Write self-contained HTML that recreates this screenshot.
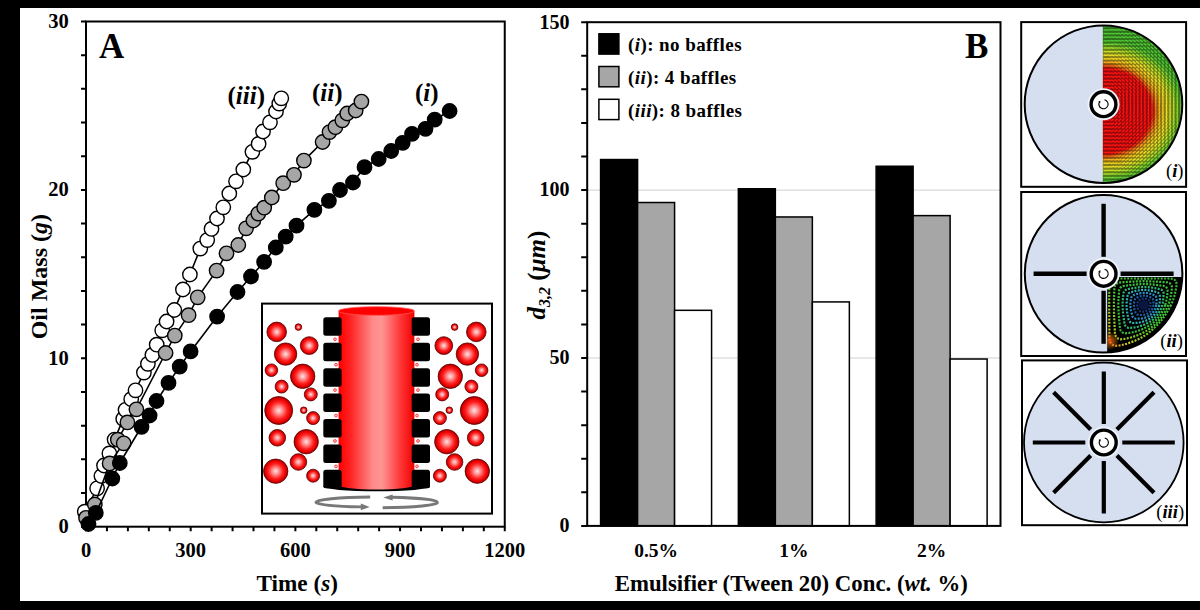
<!DOCTYPE html>
<html><head><meta charset="utf-8"><title>figure</title>
<style>html,body{margin:0;padding:0;background:#000;} body{width:1200px;height:610px;overflow:hidden;} svg{display:block;}</style>
</head><body>
<svg width="1200" height="610" viewBox="0 0 1200 610">
<defs>
<radialGradient id="bub" cx="0.5" cy="0.5" r="0.5" fx="0.5" fy="0.5">
<stop offset="0" stop-color="#ffe4e4"/><stop offset="0.3" stop-color="#ff8888"/><stop offset="0.62" stop-color="#ff1c1c"/><stop offset="0.86" stop-color="#e00000"/><stop offset="1" stop-color="#900000"/></radialGradient>
<linearGradient id="cyl" x1="0" x2="1" y1="0" y2="0">
<stop offset="0" stop-color="#ff0000"/><stop offset="0.15" stop-color="#ff2020"/><stop offset="0.45" stop-color="#ff8a8a"/><stop offset="0.57" stop-color="#ff9494"/><stop offset="0.82" stop-color="#ff3535"/><stop offset="1" stop-color="#f00000"/></linearGradient>
<radialGradient id="f1" gradientUnits="userSpaceOnUse" cx="1103.5" cy="111" r="80" gradientTransform="translate(0,111) scale(1,0.88) translate(0,-111)">
<stop offset="0" stop-color="#ff1010"/><stop offset="0.605" stop-color="#ff1414"/><stop offset="0.635" stop-color="#f05010"/><stop offset="0.675" stop-color="#f09820"/><stop offset="0.73" stop-color="#f0c820"/><stop offset="0.80" stop-color="#e8e028"/><stop offset="0.88" stop-color="#b0dc28"/><stop offset="0.95" stop-color="#70d030"/><stop offset="1" stop-color="#50c030"/></radialGradient>
<radialGradient id="f2" gradientUnits="userSpaceOnUse" cx="1143" cy="305" r="60">
<stop offset="0" stop-color="#001030"/><stop offset="0.2" stop-color="#103070"/><stop offset="0.45" stop-color="#20a0b0"/><stop offset="0.65" stop-color="#30c040"/><stop offset="0.8" stop-color="#40b020"/><stop offset="0.9" stop-color="#c0d020"/><stop offset="1" stop-color="#e06010"/></radialGradient>
<pattern id="tex1" patternUnits="userSpaceOnUse" width="3.5" height="3.5"><rect x="0" y="2.3" width="3.5" height="1.2" fill="#000" fill-opacity="0.6"/><rect x="2.7" y="0" width="0.8" height="2.3" fill="#000" fill-opacity="0.45"/></pattern>
<pattern id="tex2" patternUnits="userSpaceOnUse" width="3.6" height="3.6"><rect x="0" y="0" width="3.6" height="3.6" fill="#000" fill-opacity="0.35"/><circle cx="1.8" cy="1.8" r="1.1" fill="#fff" fill-opacity="0.15"/></pattern>
<radialGradient id="org" cx="0.5" cy="0.5" r="0.5"><stop offset="0" stop-color="#f05010" stop-opacity="0.9"/><stop offset="1" stop-color="#f0a010" stop-opacity="0"/></radialGradient>
<linearGradient id="rg0" gradientUnits="userSpaceOnUse" x1="1180" y1="277" x2="1108" y2="352"><stop offset="0" stop-color="#30b830"/><stop offset="0.5" stop-color="#48c030"/><stop offset="0.8" stop-color="#c8d020"/><stop offset="1" stop-color="#e86020"/></linearGradient>
<linearGradient id="rg1" gradientUnits="userSpaceOnUse" x1="1180" y1="277" x2="1108" y2="352"><stop offset="0" stop-color="#38c038"/><stop offset="0.5" stop-color="#40c030"/><stop offset="0.8" stop-color="#a0d020"/><stop offset="1" stop-color="#e0a020"/></linearGradient>
</defs>
<rect x="0" y="0" width="1200" height="610" fill="#000"/>
<rect x="20" y="8" width="1180" height="593" fill="#fff"/>
<rect x="86.0" y="21.5" width="418.75" height="505.20" fill="none" stroke="#000" stroke-width="2"/>
<path d="M81.0,526.70H86.0M81.0,493.02H86.0M81.0,459.34H86.0M81.0,425.66H86.0M81.0,391.98H86.0M81.0,358.30H86.0M81.0,324.62H86.0M81.0,290.94H86.0M81.0,257.26H86.0M81.0,223.58H86.0M81.0,189.90H86.0M81.0,156.22H86.0M81.0,122.54H86.0M81.0,88.86H86.0M81.0,55.18H86.0M81.0,21.50H86.0M86.00,526.7V531.2M106.94,526.7V531.2M127.88,526.7V531.2M148.81,526.7V531.2M169.75,526.7V531.2M190.69,526.7V531.2M211.62,526.7V531.2M232.56,526.7V531.2M253.50,526.7V531.2M274.44,526.7V531.2M295.38,526.7V531.2M316.31,526.7V531.2M337.25,526.7V531.2M358.19,526.7V531.2M379.12,526.7V531.2M400.06,526.7V531.2M421.00,526.7V531.2M441.94,526.7V531.2M462.88,526.7V531.2M483.81,526.7V531.2M504.75,526.7V531.2" stroke="#000" stroke-width="2" fill="none"/>
<text x="68.8" y="533.1" font-family="Liberation Serif" font-weight="bold" font-size="20.5" text-anchor="end">0</text>
<text x="68.8" y="364.7" font-family="Liberation Serif" font-weight="bold" font-size="20.5" text-anchor="end">10</text>
<text x="68.8" y="196.3" font-family="Liberation Serif" font-weight="bold" font-size="20.5" text-anchor="end">20</text>
<text x="68.8" y="27.9" font-family="Liberation Serif" font-weight="bold" font-size="20.5" text-anchor="end">30</text>
<text x="86.0" y="556.8" font-family="Liberation Serif" font-weight="bold" font-size="20.5" text-anchor="middle">0</text>
<text x="190.7" y="556.8" font-family="Liberation Serif" font-weight="bold" font-size="20.5" text-anchor="middle">300</text>
<text x="295.4" y="556.8" font-family="Liberation Serif" font-weight="bold" font-size="20.5" text-anchor="middle">600</text>
<text x="400.1" y="556.8" font-family="Liberation Serif" font-weight="bold" font-size="20.5" text-anchor="middle">900</text>
<text x="504.8" y="556.8" font-family="Liberation Serif" font-weight="bold" font-size="20.5" text-anchor="middle">1200</text>
<text x="297.2" y="591.4" font-family="Liberation Serif" font-weight="bold" font-size="23.2" text-anchor="middle">Time (<tspan font-style="italic">s</tspan>)</text>
<text transform="translate(47,276.7) rotate(-90)" x="0" y="0" font-family="Liberation Serif" font-weight="bold" font-size="24" text-anchor="middle">Oil Mass (<tspan font-style="italic">g</tspan>)</text>
<text x="99" y="57.8" font-family="Liberation Serif" font-weight="bold" font-size="35">A</text>
<text x="227.5" y="104" font-family="Liberation Serif" font-weight="bold" font-size="25">(<tspan font-style="italic">iii</tspan>)</text>
<text x="312" y="101" font-family="Liberation Serif" font-weight="bold" font-size="25">(<tspan font-style="italic">ii</tspan>)</text>
<text x="415" y="101" font-family="Liberation Serif" font-weight="bold" font-size="25">(<tspan font-style="italic">i</tspan>)</text>
<rect x="262" y="303.6" width="230" height="210" fill="#fff" stroke="#000" stroke-width="2"/>
<circle cx="276.7" cy="331.9" r="9.8" fill="url(#bub)" stroke="#600000" stroke-width="0.8"/>
<circle cx="476.3" cy="331.9" r="9.8" fill="url(#bub)" stroke="#600000" stroke-width="0.8"/>
<circle cx="298.4" cy="327.1" r="3.3" fill="url(#bub)" stroke="#600000" stroke-width="0.8"/>
<circle cx="454.6" cy="327.1" r="3.3" fill="url(#bub)" stroke="#600000" stroke-width="0.8"/>
<circle cx="285.6" cy="354.1" r="11.2" fill="url(#bub)" stroke="#600000" stroke-width="0.8"/>
<circle cx="467.4" cy="354.1" r="11.2" fill="url(#bub)" stroke="#600000" stroke-width="0.8"/>
<circle cx="309.2" cy="345.6" r="8.9" fill="url(#bub)" stroke="#600000" stroke-width="0.8"/>
<circle cx="443.8" cy="345.6" r="8.9" fill="url(#bub)" stroke="#600000" stroke-width="0.8"/>
<circle cx="271.4" cy="370.2" r="6.3" fill="url(#bub)" stroke="#600000" stroke-width="0.8"/>
<circle cx="481.6" cy="370.2" r="6.3" fill="url(#bub)" stroke="#600000" stroke-width="0.8"/>
<circle cx="302.7" cy="376.3" r="12.2" fill="url(#bub)" stroke="#600000" stroke-width="0.8"/>
<circle cx="450.3" cy="376.3" r="12.2" fill="url(#bub)" stroke="#600000" stroke-width="0.8"/>
<circle cx="281.6" cy="386.6" r="6.5" fill="url(#bub)" stroke="#600000" stroke-width="0.8"/>
<circle cx="471.4" cy="386.6" r="6.5" fill="url(#bub)" stroke="#600000" stroke-width="0.8"/>
<circle cx="310.8" cy="394.4" r="6.5" fill="url(#bub)" stroke="#600000" stroke-width="0.8"/>
<circle cx="442.2" cy="394.4" r="6.5" fill="url(#bub)" stroke="#600000" stroke-width="0.8"/>
<circle cx="278.7" cy="410.5" r="14" fill="url(#bub)" stroke="#600000" stroke-width="0.8"/>
<circle cx="474.3" cy="410.5" r="14" fill="url(#bub)" stroke="#600000" stroke-width="0.8"/>
<circle cx="303.7" cy="410.2" r="3.3" fill="url(#bub)" stroke="#600000" stroke-width="0.8"/>
<circle cx="449.3" cy="410.2" r="3.3" fill="url(#bub)" stroke="#600000" stroke-width="0.8"/>
<circle cx="313.1" cy="418.1" r="6.5" fill="url(#bub)" stroke="#600000" stroke-width="0.8"/>
<circle cx="439.9" cy="418.1" r="6.5" fill="url(#bub)" stroke="#600000" stroke-width="0.8"/>
<circle cx="277.3" cy="437.8" r="8.3" fill="url(#bub)" stroke="#600000" stroke-width="0.8"/>
<circle cx="475.7" cy="437.8" r="8.3" fill="url(#bub)" stroke="#600000" stroke-width="0.8"/>
<circle cx="306.2" cy="441.7" r="12.2" fill="url(#bub)" stroke="#600000" stroke-width="0.8"/>
<circle cx="446.8" cy="441.7" r="12.2" fill="url(#bub)" stroke="#600000" stroke-width="0.8"/>
<circle cx="275.7" cy="471.2" r="12.2" fill="url(#bub)" stroke="#600000" stroke-width="0.8"/>
<circle cx="477.3" cy="471.2" r="12.2" fill="url(#bub)" stroke="#600000" stroke-width="0.8"/>
<circle cx="298.4" cy="462" r="8.3" fill="url(#bub)" stroke="#600000" stroke-width="0.8"/>
<circle cx="454.6" cy="462" r="8.3" fill="url(#bub)" stroke="#600000" stroke-width="0.8"/>
<circle cx="313.1" cy="475.7" r="6.5" fill="url(#bub)" stroke="#600000" stroke-width="0.8"/>
<circle cx="439.9" cy="475.7" r="6.5" fill="url(#bub)" stroke="#600000" stroke-width="0.8"/>
<ellipse cx="376.7" cy="486.5" rx="53.4" ry="4.8" fill="#000"/>
<path d="M338.6,311 V485 A37.9,4.5 0 0 0 414.4,485 V311 Z" fill="url(#cyl)"/>
<ellipse cx="376.5" cy="311" rx="37.9" ry="4.3" fill="#f00" stroke="#ff5050" stroke-width="0.8"/>
<rect x="323.3" y="317.30" width="18.3" height="18.5" rx="2.5" fill="#000"/>
<rect x="411.7" y="317.30" width="18.3" height="18.5" rx="2.5" fill="#000"/>
<rect x="323.3" y="342.72" width="18.3" height="18.5" rx="2.5" fill="#000"/>
<rect x="411.7" y="342.72" width="18.3" height="18.5" rx="2.5" fill="#000"/>
<rect x="323.3" y="368.14" width="18.3" height="18.5" rx="2.5" fill="#000"/>
<rect x="411.7" y="368.14" width="18.3" height="18.5" rx="2.5" fill="#000"/>
<rect x="323.3" y="393.56" width="18.3" height="18.5" rx="2.5" fill="#000"/>
<rect x="411.7" y="393.56" width="18.3" height="18.5" rx="2.5" fill="#000"/>
<rect x="323.3" y="418.98" width="18.3" height="18.5" rx="2.5" fill="#000"/>
<rect x="411.7" y="418.98" width="18.3" height="18.5" rx="2.5" fill="#000"/>
<rect x="323.3" y="444.40" width="18.3" height="18.5" rx="2.5" fill="#000"/>
<rect x="411.7" y="444.40" width="18.3" height="18.5" rx="2.5" fill="#000"/>
<rect x="323.3" y="469.82" width="18.3" height="18.5" rx="2.5" fill="#000"/>
<rect x="411.7" y="469.82" width="18.3" height="18.5" rx="2.5" fill="#000"/>
<circle cx="335.0" cy="339.3" r="1.4" fill="#ffc8c8" stroke="#ff2020" stroke-width="0.8"/>
<circle cx="418.0" cy="339.3" r="1.4" fill="#ffc8c8" stroke="#ff2020" stroke-width="0.8"/>
<circle cx="336.0" cy="364.7" r="1.4" fill="#ffc8c8" stroke="#ff2020" stroke-width="0.8"/>
<circle cx="417.0" cy="364.7" r="1.4" fill="#ffc8c8" stroke="#ff2020" stroke-width="0.8"/>
<circle cx="335.0" cy="390.1" r="1.4" fill="#ffc8c8" stroke="#ff2020" stroke-width="0.8"/>
<circle cx="418.0" cy="390.1" r="1.4" fill="#ffc8c8" stroke="#ff2020" stroke-width="0.8"/>
<circle cx="336.0" cy="415.6" r="1.4" fill="#ffc8c8" stroke="#ff2020" stroke-width="0.8"/>
<circle cx="417.0" cy="415.6" r="1.4" fill="#ffc8c8" stroke="#ff2020" stroke-width="0.8"/>
<circle cx="335.0" cy="441.0" r="1.4" fill="#ffc8c8" stroke="#ff2020" stroke-width="0.8"/>
<circle cx="418.0" cy="441.0" r="1.4" fill="#ffc8c8" stroke="#ff2020" stroke-width="0.8"/>
<circle cx="336.0" cy="466.4" r="1.4" fill="#ffc8c8" stroke="#ff2020" stroke-width="0.8"/>
<circle cx="417.0" cy="466.4" r="1.4" fill="#ffc8c8" stroke="#ff2020" stroke-width="0.8"/>
<path d="M370.2,497 A60.7,5.3 0 0 0 316,502.3 A60.7,5.3 0 0 0 361,506.9" fill="none" stroke="#787878" stroke-width="2.9"/>
<path d="M382.7,507.7 A60.7,5.3 0 0 0 437.4,502.3 A60.7,5.3 0 0 0 392,497.3" fill="none" stroke="#787878" stroke-width="2.9"/>
<path d="M369.7,506.9 L360.8,503.6 L360.8,510.2 Z" fill="#787878"/>
<path d="M383.2,497.5 L392.6,494.4 L392.6,500.6 Z" fill="#787878"/>
<path d="M86.0,526.7 L84.8,511.7 L97.1,488.3 L101.4,476.0 L104.0,465.5 L109.4,453.4 L114.6,439.6 L123.2,418.9 L125.5,409.8 L131.2,399.2 L135.5,390.3 L143.9,372.6 L147.9,363.8 L152.4,354.9 L156.7,344.7 L162.2,330.3 L166.6,321.5 L174.3,310.0 L182.9,289.5 L189.9,274.5 L200.3,248.6 L207.2,240.1 L211.5,228.9 L217.0,218.5 L223.3,207.3 L229.3,193.5 L236.0,181.3 L243.3,169.5 L252.4,151.8 L258.6,143.9 L263.0,131.5 L270.0,122.3 L276.0,111.5 L279.3,103.6 L281.3,98.3" fill="none" stroke="#000" stroke-width="1.6"/>
<circle cx="84.8" cy="511.7" r="7.2" fill="#fff" stroke="#000" stroke-width="1.4"/>
<circle cx="97.1" cy="488.3" r="7.2" fill="#fff" stroke="#000" stroke-width="1.4"/>
<circle cx="101.4" cy="476" r="7.2" fill="#fff" stroke="#000" stroke-width="1.4"/>
<circle cx="104" cy="465.5" r="7.2" fill="#fff" stroke="#000" stroke-width="1.4"/>
<circle cx="109.4" cy="453.4" r="7.2" fill="#fff" stroke="#000" stroke-width="1.4"/>
<circle cx="114.6" cy="439.6" r="7.2" fill="#fff" stroke="#000" stroke-width="1.4"/>
<circle cx="123.2" cy="418.9" r="7.2" fill="#fff" stroke="#000" stroke-width="1.4"/>
<circle cx="125.5" cy="409.8" r="7.2" fill="#fff" stroke="#000" stroke-width="1.4"/>
<circle cx="131.2" cy="399.2" r="7.2" fill="#fff" stroke="#000" stroke-width="1.4"/>
<circle cx="135.5" cy="390.3" r="7.2" fill="#fff" stroke="#000" stroke-width="1.4"/>
<circle cx="143.9" cy="372.6" r="7.2" fill="#fff" stroke="#000" stroke-width="1.4"/>
<circle cx="147.9" cy="363.8" r="7.2" fill="#fff" stroke="#000" stroke-width="1.4"/>
<circle cx="152.4" cy="354.9" r="7.2" fill="#fff" stroke="#000" stroke-width="1.4"/>
<circle cx="156.7" cy="344.7" r="7.2" fill="#fff" stroke="#000" stroke-width="1.4"/>
<circle cx="162.2" cy="330.3" r="7.2" fill="#fff" stroke="#000" stroke-width="1.4"/>
<circle cx="166.6" cy="321.5" r="7.2" fill="#fff" stroke="#000" stroke-width="1.4"/>
<circle cx="174.3" cy="310" r="7.2" fill="#fff" stroke="#000" stroke-width="1.4"/>
<circle cx="182.9" cy="289.5" r="7.2" fill="#fff" stroke="#000" stroke-width="1.4"/>
<circle cx="189.9" cy="274.5" r="7.2" fill="#fff" stroke="#000" stroke-width="1.4"/>
<circle cx="200.3" cy="248.6" r="7.2" fill="#fff" stroke="#000" stroke-width="1.4"/>
<circle cx="207.2" cy="240.1" r="7.2" fill="#fff" stroke="#000" stroke-width="1.4"/>
<circle cx="211.5" cy="228.9" r="7.2" fill="#fff" stroke="#000" stroke-width="1.4"/>
<circle cx="217" cy="218.5" r="7.2" fill="#fff" stroke="#000" stroke-width="1.4"/>
<circle cx="223.3" cy="207.3" r="7.2" fill="#fff" stroke="#000" stroke-width="1.4"/>
<circle cx="229.3" cy="193.5" r="7.2" fill="#fff" stroke="#000" stroke-width="1.4"/>
<circle cx="236" cy="181.3" r="7.2" fill="#fff" stroke="#000" stroke-width="1.4"/>
<circle cx="243.3" cy="169.5" r="7.2" fill="#fff" stroke="#000" stroke-width="1.4"/>
<circle cx="252.4" cy="151.8" r="7.2" fill="#fff" stroke="#000" stroke-width="1.4"/>
<circle cx="258.6" cy="143.9" r="7.2" fill="#fff" stroke="#000" stroke-width="1.4"/>
<circle cx="263" cy="131.5" r="7.2" fill="#fff" stroke="#000" stroke-width="1.4"/>
<circle cx="270" cy="122.3" r="7.2" fill="#fff" stroke="#000" stroke-width="1.4"/>
<circle cx="276" cy="111.5" r="7.2" fill="#fff" stroke="#000" stroke-width="1.4"/>
<circle cx="279.3" cy="103.6" r="7.2" fill="#fff" stroke="#000" stroke-width="1.4"/>
<circle cx="281.3" cy="98.3" r="7.2" fill="#fff" stroke="#000" stroke-width="1.4"/>
<path d="M86.0,526.7 L86.0,517.8 L94.8,504.5 L109.6,463.4 L123.7,443.3 L117.8,439.7 L127.4,422.4 L136.4,409.3 L165.6,353.0 L174.8,335.6 L188.6,315.2 L197.7,297.3 L216.6,270.6 L226.5,253.3 L238.3,245.0 L246.1,228.3 L253.4,220.5 L258.3,213.6 L264.2,207.7 L271.8,197.5 L283.2,183.2 L294.0,174.8 L303.9,160.6 L322.6,142.0 L329.5,132.1 L335.4,127.2 L342.3,120.3 L347.2,113.5 L355.7,110.5 L361.4,101.6" fill="none" stroke="#000" stroke-width="1.6"/>
<circle cx="86" cy="517.8" r="7.2" fill="#a6a6a6" stroke="#000" stroke-width="1.4"/>
<circle cx="94.8" cy="504.5" r="7.2" fill="#a6a6a6" stroke="#000" stroke-width="1.4"/>
<circle cx="109.6" cy="463.4" r="7.2" fill="#a6a6a6" stroke="#000" stroke-width="1.4"/>
<circle cx="117.8" cy="439.7" r="7.2" fill="#a6a6a6" stroke="#000" stroke-width="1.4"/>
<circle cx="123.7" cy="443.3" r="7.2" fill="#a6a6a6" stroke="#000" stroke-width="1.4"/>
<circle cx="127.4" cy="422.4" r="7.2" fill="#a6a6a6" stroke="#000" stroke-width="1.4"/>
<circle cx="136.4" cy="409.3" r="7.2" fill="#a6a6a6" stroke="#000" stroke-width="1.4"/>
<circle cx="165.6" cy="353" r="7.2" fill="#a6a6a6" stroke="#000" stroke-width="1.4"/>
<circle cx="174.8" cy="335.6" r="7.2" fill="#a6a6a6" stroke="#000" stroke-width="1.4"/>
<circle cx="188.6" cy="315.2" r="7.2" fill="#a6a6a6" stroke="#000" stroke-width="1.4"/>
<circle cx="197.7" cy="297.3" r="7.2" fill="#a6a6a6" stroke="#000" stroke-width="1.4"/>
<circle cx="216.6" cy="270.6" r="7.2" fill="#a6a6a6" stroke="#000" stroke-width="1.4"/>
<circle cx="226.5" cy="253.3" r="7.2" fill="#a6a6a6" stroke="#000" stroke-width="1.4"/>
<circle cx="238.3" cy="245" r="7.2" fill="#a6a6a6" stroke="#000" stroke-width="1.4"/>
<circle cx="246.1" cy="228.3" r="7.2" fill="#a6a6a6" stroke="#000" stroke-width="1.4"/>
<circle cx="253.4" cy="220.5" r="7.2" fill="#a6a6a6" stroke="#000" stroke-width="1.4"/>
<circle cx="258.3" cy="213.6" r="7.2" fill="#a6a6a6" stroke="#000" stroke-width="1.4"/>
<circle cx="264.2" cy="207.7" r="7.2" fill="#a6a6a6" stroke="#000" stroke-width="1.4"/>
<circle cx="271.8" cy="197.5" r="7.2" fill="#a6a6a6" stroke="#000" stroke-width="1.4"/>
<circle cx="283.2" cy="183.2" r="7.2" fill="#a6a6a6" stroke="#000" stroke-width="1.4"/>
<circle cx="294" cy="174.8" r="7.2" fill="#a6a6a6" stroke="#000" stroke-width="1.4"/>
<circle cx="303.9" cy="160.6" r="7.2" fill="#a6a6a6" stroke="#000" stroke-width="1.4"/>
<circle cx="322.6" cy="142" r="7.2" fill="#a6a6a6" stroke="#000" stroke-width="1.4"/>
<circle cx="329.5" cy="132.1" r="7.2" fill="#a6a6a6" stroke="#000" stroke-width="1.4"/>
<circle cx="335.4" cy="127.2" r="7.2" fill="#a6a6a6" stroke="#000" stroke-width="1.4"/>
<circle cx="342.3" cy="120.3" r="7.2" fill="#a6a6a6" stroke="#000" stroke-width="1.4"/>
<circle cx="347.2" cy="113.5" r="7.2" fill="#a6a6a6" stroke="#000" stroke-width="1.4"/>
<circle cx="355.7" cy="110.5" r="7.2" fill="#a6a6a6" stroke="#000" stroke-width="1.4"/>
<circle cx="361.4" cy="101.6" r="7.2" fill="#a6a6a6" stroke="#000" stroke-width="1.4"/>
<path d="M86.0,526.7 L88.5,524.0 L95.8,512.9 L112.3,478.5 L119.8,463.0 L141.5,426.8 L149.6,415.5 L156.5,401.0 L168.5,382.9 L179.7,366.7 L190.6,351.4 L217.1,316.6 L237.5,292.0 L251.0,276.5 L264.1,261.9 L275.8,247.5 L285.7,236.7 L296.5,225.7 L314.4,209.8 L328.9,200.8 L340.0,190.0 L353.0,182.5 L364.5,167.2 L378.7,159.0 L391.2,151.0 L402.7,142.8 L412.0,133.8 L425.5,128.8 L434.7,119.7 L449.6,111.0" fill="none" stroke="#000" stroke-width="1.6"/>
<circle cx="88.5" cy="524" r="7.2" fill="#000" stroke="#000" stroke-width="1.4"/>
<circle cx="95.8" cy="512.9" r="7.2" fill="#000" stroke="#000" stroke-width="1.4"/>
<circle cx="112.3" cy="478.5" r="7.2" fill="#000" stroke="#000" stroke-width="1.4"/>
<circle cx="119.8" cy="463" r="7.2" fill="#000" stroke="#000" stroke-width="1.4"/>
<circle cx="141.5" cy="426.8" r="7.2" fill="#000" stroke="#000" stroke-width="1.4"/>
<circle cx="149.6" cy="415.5" r="7.2" fill="#000" stroke="#000" stroke-width="1.4"/>
<circle cx="156.5" cy="401" r="7.2" fill="#000" stroke="#000" stroke-width="1.4"/>
<circle cx="168.5" cy="382.9" r="7.2" fill="#000" stroke="#000" stroke-width="1.4"/>
<circle cx="179.7" cy="366.7" r="7.2" fill="#000" stroke="#000" stroke-width="1.4"/>
<circle cx="190.6" cy="351.4" r="7.2" fill="#000" stroke="#000" stroke-width="1.4"/>
<circle cx="217.1" cy="316.6" r="7.2" fill="#000" stroke="#000" stroke-width="1.4"/>
<circle cx="237.5" cy="292" r="7.2" fill="#000" stroke="#000" stroke-width="1.4"/>
<circle cx="251" cy="276.5" r="7.2" fill="#000" stroke="#000" stroke-width="1.4"/>
<circle cx="264.1" cy="261.9" r="7.2" fill="#000" stroke="#000" stroke-width="1.4"/>
<circle cx="275.8" cy="247.5" r="7.2" fill="#000" stroke="#000" stroke-width="1.4"/>
<circle cx="285.7" cy="236.7" r="7.2" fill="#000" stroke="#000" stroke-width="1.4"/>
<circle cx="296.5" cy="225.7" r="7.2" fill="#000" stroke="#000" stroke-width="1.4"/>
<circle cx="314.4" cy="209.8" r="7.2" fill="#000" stroke="#000" stroke-width="1.4"/>
<circle cx="328.9" cy="200.8" r="7.2" fill="#000" stroke="#000" stroke-width="1.4"/>
<circle cx="340" cy="190" r="7.2" fill="#000" stroke="#000" stroke-width="1.4"/>
<circle cx="353" cy="182.5" r="7.2" fill="#000" stroke="#000" stroke-width="1.4"/>
<circle cx="364.5" cy="167.2" r="7.2" fill="#000" stroke="#000" stroke-width="1.4"/>
<circle cx="378.7" cy="159" r="7.2" fill="#000" stroke="#000" stroke-width="1.4"/>
<circle cx="391.2" cy="151" r="7.2" fill="#000" stroke="#000" stroke-width="1.4"/>
<circle cx="402.7" cy="142.8" r="7.2" fill="#000" stroke="#000" stroke-width="1.4"/>
<circle cx="412" cy="133.8" r="7.2" fill="#000" stroke="#000" stroke-width="1.4"/>
<circle cx="425.5" cy="128.8" r="7.2" fill="#000" stroke="#000" stroke-width="1.4"/>
<circle cx="434.7" cy="119.7" r="7.2" fill="#000" stroke="#000" stroke-width="1.4"/>
<circle cx="449.6" cy="111" r="7.2" fill="#000" stroke="#000" stroke-width="1.4"/>
<line x1="587.2" x2="1000.5" y1="358.00" y2="358.00" stroke="#d0d0d0" stroke-width="1"/>
<line x1="587.2" x2="1000.5" y1="190.10" y2="190.10" stroke="#d0d0d0" stroke-width="1"/>
<rect x="600.58" y="159.54" width="37.0" height="366.36" fill="#000" stroke="#000" stroke-width="1.5"/>
<rect x="637.58" y="202.52" width="37.0" height="323.38" fill="#a6a6a6" stroke="#000" stroke-width="1.5"/>
<rect x="674.58" y="310.32" width="37.0" height="215.58" fill="#fff" stroke="#000" stroke-width="1.5"/>
<rect x="738.35" y="188.76" width="37.0" height="337.14" fill="#000" stroke="#000" stroke-width="1.5"/>
<rect x="775.35" y="216.96" width="37.0" height="308.94" fill="#a6a6a6" stroke="#000" stroke-width="1.5"/>
<rect x="812.35" y="301.92" width="37.0" height="223.98" fill="#fff" stroke="#000" stroke-width="1.5"/>
<rect x="876.12" y="166.26" width="37.0" height="359.64" fill="#000" stroke="#000" stroke-width="1.5"/>
<rect x="913.12" y="215.62" width="37.0" height="310.28" fill="#a6a6a6" stroke="#000" stroke-width="1.5"/>
<rect x="950.12" y="359.01" width="37.0" height="166.89" fill="#fff" stroke="#000" stroke-width="1.5"/>
<rect x="587.2" y="22.2" width="413.30" height="503.70" fill="none" stroke="#000" stroke-width="2"/>
<path d="M581.2,525.90H587.2M581.2,492.32H587.2M581.2,458.74H587.2M581.2,425.16H587.2M581.2,391.58H587.2M581.2,358.00H587.2M581.2,324.42H587.2M581.2,290.84H587.2M581.2,257.26H587.2M581.2,223.68H587.2M581.2,190.10H587.2M581.2,156.52H587.2M581.2,122.94H587.2M581.2,89.36H587.2M581.2,55.78H587.2M581.2,22.20H587.2" stroke="#000" stroke-width="2" fill="none"/>
<text x="569.5" y="532.2" font-family="Liberation Serif" font-weight="bold" font-size="20" text-anchor="end">0</text>
<text x="569.5" y="364.3" font-family="Liberation Serif" font-weight="bold" font-size="20" text-anchor="end">50</text>
<text x="569.5" y="196.4" font-family="Liberation Serif" font-weight="bold" font-size="20" text-anchor="end">100</text>
<text x="569.5" y="28.5" font-family="Liberation Serif" font-weight="bold" font-size="20" text-anchor="end">150</text>
<text x="656.1" y="557" font-family="Liberation Serif" font-weight="bold" font-size="19.5" text-anchor="middle">0.5%</text>
<text x="793.9" y="557" font-family="Liberation Serif" font-weight="bold" font-size="19.5" text-anchor="middle">1%</text>
<text x="931.6" y="557" font-family="Liberation Serif" font-weight="bold" font-size="19.5" text-anchor="middle">2%</text>
<text x="791.3" y="591" font-family="Liberation Serif" font-weight="bold" font-size="22.8" text-anchor="middle">Emulsifier (Tween 20) Conc. (<tspan font-style="italic">wt.</tspan> %)</text>
<text transform="translate(544.7,275) rotate(-90)" font-family="Liberation Serif" font-weight="bold" font-size="25" text-anchor="middle"><tspan font-style="italic">d</tspan><tspan font-style="italic" font-size="16" dy="5.5">3,2</tspan><tspan dy="-5.5"> (</tspan><tspan font-style="italic">μm</tspan>)</text>
<text x="965" y="58.2" font-family="Liberation Serif" font-weight="bold" font-size="35">B</text>
<rect x="598.9" y="33.8" width="20" height="20.3" fill="#000" stroke="#000" stroke-width="1.5"/>
<text x="628" y="51.4" font-family="Liberation Serif" font-weight="bold" font-size="19" letter-spacing="0.42">(<tspan font-style="italic">i</tspan>): no baffles</text>
<rect x="598.9" y="66.5" width="20" height="20.3" fill="#a6a6a6" stroke="#000" stroke-width="1.5"/>
<text x="628" y="84.1" font-family="Liberation Serif" font-weight="bold" font-size="19" letter-spacing="0.42">(<tspan font-style="italic">ii</tspan>): 4 baffles</text>
<rect x="598.9" y="99.3" width="20" height="20.3" fill="#fff" stroke="#000" stroke-width="1.5"/>
<text x="628" y="116.9" font-family="Liberation Serif" font-weight="bold" font-size="19" letter-spacing="0.42">(<tspan font-style="italic">iii</tspan>): 8 baffles</text>
<rect x="1021.2" y="22.1" width="164.9" height="164.7" fill="#fff" stroke="#000" stroke-width="2"/>
<circle cx="1103.5" cy="104.2" r="78.8" fill="#d6dff0"/>
<clipPath id="c1"><path d="M1102.7,25.400000000000006 A78.8,78.8 0 0 1 1102.7,183.0 Z"/></clipPath>
<g clip-path="url(#c1)"><rect x="1102.5" y="25.400000000000006" width="80.8" height="157.6" fill="url(#f1)"/><rect x="1102.5" y="25.400000000000006" width="80.8" height="157.6" fill="#000" fill-opacity="0.42"/>
<path d="M1104.1,26.4l2.5,0.1M1107.7,26.3l2.5,0.2M1104.1,30.0l2.5,0.1M1107.7,29.9l2.5,0.2M1111.3,29.8l2.5,0.3M1114.9,29.8l2.5,0.4M1118.5,29.7l2.4,0.5M1122.1,29.7l2.4,0.6M1125.7,29.6l2.4,0.8M1104.1,33.6l2.5,0.1M1107.7,33.5l2.5,0.2M1111.3,33.4l2.5,0.3M1114.9,33.4l2.5,0.4M1118.5,33.3l2.4,0.6M1122.1,33.3l2.4,0.7M1125.7,33.2l2.4,0.8M1129.3,33.2l2.3,0.9M1133.0,33.1l2.3,1.0M1104.1,37.2l2.5,0.1M1107.7,37.1l2.5,0.2M1111.3,37.0l2.5,0.3M1114.9,37.0l2.5,0.5M1118.5,36.9l2.4,0.6M1122.1,36.8l2.4,0.7M1125.7,36.8l2.4,0.8M1129.3,36.7l2.3,0.9M1133.0,36.7l2.3,1.0M1136.6,36.6l2.2,1.1M1140.2,36.6l2.2,1.2M1104.1,40.8l2.5,0.1M1107.7,40.7l2.5,0.2M1111.3,40.6l2.5,0.4M1114.9,40.6l2.5,0.5M1118.5,40.5l2.4,0.6M1122.1,40.4l2.4,0.7M1125.7,40.4l2.3,0.9M1129.3,40.3l2.3,1.0M1133.0,40.3l2.3,1.1M1136.6,40.2l2.2,1.2M1140.2,40.2l2.1,1.3M1143.9,40.1l2.1,1.4M1147.5,40.1l2.0,1.4M1129.4,43.9l2.3,1.0M1133.0,43.8l2.2,1.1M1136.6,43.8l2.2,1.2M1140.2,43.7l2.1,1.3M1143.9,43.7l2.1,1.4M1147.5,43.6l2.0,1.5M1151.1,43.6l1.9,1.6M1140.3,47.3l2.1,1.4M1143.9,47.3l2.0,1.5M1147.5,47.2l2.0,1.6M1151.2,47.2l1.9,1.6M1154.8,47.1l1.8,1.7M1147.6,50.8l1.9,1.6M1151.2,50.8l1.8,1.7M1154.8,50.7l1.8,1.8M1158.4,50.7l1.7,1.8M1151.2,54.3l1.8,1.8M1154.8,54.3l1.7,1.8M1158.5,54.3l1.6,1.9M1162.1,54.2l1.6,1.9M1158.5,57.8l1.6,1.9M1162.1,57.8l1.5,2.0M1165.8,57.8l1.5,2.0M1162.2,61.4l1.4,2.0M1165.8,61.4l1.4,2.1M1165.9,64.9l1.3,2.1M1169.5,64.9l1.2,2.2M1169.5,68.5l1.2,2.2M1173.1,68.5l1.1,2.2M1173.2,72.1l1.0,2.3M1173.2,75.6l0.9,2.3M1176.9,79.2l0.8,2.4M1177.0,82.8l0.7,2.4M1131.7,177.2l-2.3,0.9M1106.5,181.2l-2.5,0.1M1110.1,181.1l-2.5,0.2M1113.7,181.1l-2.5,0.3M1117.3,181.0l-2.5,0.4" stroke="#4ec636" stroke-width="1.5" stroke-linecap="round" fill="none"/>
<path d="M1104.1,44.4l2.5,0.1M1107.7,44.3l2.5,0.2M1111.3,44.2l2.5,0.4M1129.4,47.5l2.3,1.1M1136.7,50.9l2.1,1.4M1143.9,54.4l1.9,1.6M1154.9,61.4l1.6,2.0M1158.6,65.0l1.4,2.1M1162.3,68.5l1.3,2.2M1165.9,72.1l1.1,2.2M1177.1,93.6l0.3,2.5M1177.7,126.0l-0.7,2.4M1167.2,147.8l-1.4,2.0M1163.7,151.4l-1.6,1.9M1160.2,155.1l-1.7,1.8M1156.6,158.7l-1.8,1.7M1145.9,166.1l-2.1,1.4M1138.8,169.8l-2.2,1.1M1131.7,173.5l-2.3,0.9M1106.5,177.6l-2.5,0.1M1110.1,177.5l-2.5,0.2M1113.7,177.4l-2.5,0.3" stroke="#72d236" stroke-width="1.5" stroke-linecap="round" fill="none"/>
<path d="M1114.9,44.1l2.4,0.5M1151.2,57.9l1.7,1.8M1169.6,75.6l1.0,2.3M1173.4,82.8l0.7,2.4M1174.2,136.9l-1.1,2.3M1170.8,144.1l-1.3,2.1M1153.1,162.4l-1.9,1.6M1117.3,177.4l-2.5,0.4" stroke="#66d236" stroke-width="1.5" stroke-linecap="round" fill="none"/>
<path d="M1118.5,44.1l2.4,0.7M1133.0,47.4l2.2,1.2M1140.3,50.9l2.0,1.5M1147.6,54.4l1.8,1.7M1177.1,90.0l0.4,2.5M1180.9,104.4l-0.0,2.5M1181.0,108.0l-0.2,2.5M1181.0,111.6l-0.3,2.5M1149.5,166.1l-2.0,1.5M1142.4,169.8l-2.2,1.2M1135.2,173.5l-2.3,1.0M1120.9,177.3l-2.4,0.5" stroke="#66c636" stroke-width="1.5" stroke-linecap="round" fill="none"/>
<path d="M1122.1,44.0l2.4,0.8M1125.7,43.9l2.3,0.9M1136.6,47.4l2.1,1.3M1143.9,50.8l2.0,1.5M1154.9,57.9l1.6,1.9M1158.6,61.4l1.5,2.0M1162.2,64.9l1.4,2.1M1165.9,68.5l1.2,2.2M1169.6,72.1l1.1,2.3M1173.3,79.2l0.8,2.4M1177.0,86.4l0.5,2.4M1180.7,93.6l0.3,2.5M1180.8,97.2l0.2,2.5M1180.9,100.8l0.1,2.5M1146.0,169.7l-2.1,1.3M1138.8,173.5l-2.2,1.1M1124.5,177.3l-2.4,0.7M1128.1,177.2l-2.4,0.8" stroke="#5ac636" stroke-width="1.5" stroke-linecap="round" fill="none"/>
<path d="M1104.1,48.0l2.5,0.1M1107.7,47.9l2.5,0.2M1111.3,47.8l2.5,0.4M1125.8,51.1l2.3,1.0M1136.7,54.5l2.1,1.4M1147.6,61.5l1.7,1.8M1166.1,79.2l0.9,2.3M1169.8,86.4l0.6,2.4M1173.6,97.2l0.2,2.5M1174.0,122.4l-0.7,2.4M1170.6,133.3l-1.0,2.3M1167.1,140.5l-1.3,2.1M1149.5,158.8l-1.9,1.6M1138.8,166.2l-2.2,1.2M1128.1,170.0l-2.4,0.8M1106.5,174.0l-2.5,0.1M1110.1,173.9l-2.5,0.2M1113.7,173.8l-2.5,0.3" stroke="#a2de2a" stroke-width="1.5" stroke-linecap="round" fill="none"/>
<path d="M1114.9,47.7l2.4,0.5M1129.4,51.0l2.2,1.1M1155.0,65.0l1.5,2.0M1158.6,68.5l1.3,2.1M1173.5,93.6l0.3,2.5M1174.1,126.0l-0.8,2.4M1160.1,151.5l-1.6,1.9M1156.6,155.1l-1.8,1.8M1131.7,169.9l-2.3,0.9M1117.3,173.8l-2.5,0.4" stroke="#96d22a" stroke-width="1.5" stroke-linecap="round" fill="none"/>
<path d="M1118.5,47.7l2.4,0.7M1122.1,47.6l2.4,0.8M1133.0,51.0l2.2,1.3M1140.3,54.4l2.0,1.5M1151.3,61.5l1.6,1.9M1162.3,72.1l1.2,2.2M1166.0,75.7l1.0,2.3M1169.7,82.8l0.7,2.4M1173.5,90.0l0.5,2.5M1177.3,104.4l-0.0,2.5M1177.4,108.0l-0.2,2.5M1177.4,111.6l-0.3,2.5M1177.5,115.2l-0.4,2.5M1174.1,129.6l-0.9,2.3M1170.7,136.9l-1.1,2.2M1167.2,144.2l-1.4,2.1M1163.7,147.8l-1.5,2.0M1153.0,158.8l-1.9,1.6M1142.4,166.2l-2.1,1.3M1135.2,169.9l-2.3,1.0M1120.9,173.7l-2.4,0.6M1124.5,173.7l-2.4,0.7" stroke="#8ad22a" stroke-width="1.5" stroke-linecap="round" fill="none"/>
<path d="M1125.7,47.5l2.3,1.0M1147.6,57.9l1.8,1.8M1169.7,79.2l0.8,2.4M1173.4,86.4l0.6,2.4M1177.2,97.2l0.2,2.5M1177.3,100.8l0.1,2.5M1177.6,118.8l-0.5,2.4M1177.6,122.4l-0.6,2.4M1174.2,133.3l-1.0,2.3M1170.7,140.5l-1.2,2.2M1149.5,162.4l-2.0,1.5M1128.1,173.6l-2.4,0.8" stroke="#7ed22a" stroke-width="1.5" stroke-linecap="round" fill="none"/>
<path d="M1104.1,51.6l2.5,0.1M1107.7,51.5l2.5,0.3M1111.3,51.4l2.5,0.4M1125.8,54.7l2.3,1.1M1136.7,58.0l2.0,1.5M1147.7,65.0l1.6,1.9M1151.4,68.6l1.4,2.0M1155.1,72.1l1.3,2.1M1158.7,75.7l1.1,2.2M1166.2,86.4l0.6,2.4M1170.0,97.2l0.2,2.5M1170.1,100.8l0.1,2.5M1170.4,118.8l-0.6,2.4M1170.4,122.4l-0.7,2.4M1167.0,133.3l-1.1,2.3M1160.0,144.2l-1.5,2.0M1156.5,147.8l-1.6,1.9M1153.0,151.5l-1.8,1.8M1149.4,155.2l-1.9,1.6M1138.8,162.6l-2.2,1.3M1128.1,166.4l-2.3,0.9M1106.5,170.4l-2.5,0.1M1110.1,170.3l-2.5,0.2M1113.7,170.2l-2.5,0.3" stroke="#c6de2a" stroke-width="1.5" stroke-linecap="round" fill="none"/>
<path d="M1114.9,51.3l2.4,0.6M1118.5,51.2l2.4,0.7M1129.4,54.6l2.2,1.2M1144.0,61.5l1.8,1.8M1162.4,79.2l0.9,2.3M1169.9,93.6l0.3,2.5M1170.5,126.0l-0.8,2.4M1163.6,140.5l-1.3,2.1M1145.9,158.9l-2.0,1.5M1131.6,166.3l-2.3,1.0M1117.3,170.2l-2.5,0.5M1120.9,170.1l-2.4,0.6" stroke="#bade2a" stroke-width="1.5" stroke-linecap="round" fill="none"/>
<path d="M1122.1,51.2l2.3,0.9M1133.0,54.5l2.1,1.3M1140.3,58.0l1.9,1.6M1151.3,65.0l1.5,2.0M1155.0,68.6l1.4,2.1M1158.7,72.1l1.2,2.2M1162.4,75.7l1.0,2.3M1166.1,82.8l0.8,2.4M1169.9,90.0l0.5,2.5M1173.7,100.8l0.1,2.5M1173.7,104.4l-0.0,2.5M1173.8,108.0l-0.2,2.5M1173.9,111.6l-0.3,2.5M1173.9,115.2l-0.4,2.5M1174.0,118.8l-0.5,2.4M1170.6,129.6l-0.9,2.3M1167.1,136.9l-1.2,2.2M1163.6,144.2l-1.4,2.1M1160.1,147.8l-1.6,2.0M1156.5,151.5l-1.7,1.8M1153.0,155.1l-1.8,1.7M1142.4,162.5l-2.1,1.3M1135.2,166.3l-2.2,1.1M1124.5,170.0l-2.4,0.7" stroke="#aede2a" stroke-width="1.5" stroke-linecap="round" fill="none"/>
<path d="M1104.1,55.2l2.5,0.1M1107.7,55.1l2.5,0.3M1111.3,55.0l2.5,0.5M1122.2,58.3l2.3,1.0M1125.8,58.2l2.2,1.1M1133.1,61.7l2.0,1.5M1140.4,65.1l1.8,1.8M1144.1,68.6l1.6,1.9M1147.8,72.2l1.4,2.1M1151.5,75.7l1.2,2.2M1155.2,79.3l1.0,2.3M1158.9,82.8l0.9,2.4M1162.6,90.0l0.5,2.4M1162.7,93.6l0.4,2.5M1166.5,100.8l0.1,2.5M1166.5,104.4l-0.1,2.5M1166.6,108.0l-0.2,2.5M1166.7,111.6l-0.3,2.5M1166.7,115.2l-0.5,2.5M1166.8,118.8l-0.6,2.4M1163.4,126.0l-0.9,2.3M1163.4,129.7l-1.0,2.3M1159.9,136.9l-1.3,2.1M1156.4,140.6l-1.5,2.0M1152.9,144.2l-1.6,1.9M1149.4,147.9l-1.8,1.8M1145.8,151.6l-1.9,1.6M1142.3,155.3l-2.0,1.5M1135.2,159.0l-2.2,1.2M1124.5,162.8l-2.4,0.8M1128.1,162.7l-2.3,0.9M1106.5,166.8l-2.5,0.1M1110.1,166.7l-2.5,0.2M1113.7,166.6l-2.5,0.4" stroke="#eade2a" stroke-width="1.5" stroke-linecap="round" fill="none"/>
<path d="M1114.9,54.9l2.4,0.6M1118.5,54.8l2.4,0.8M1129.4,58.2l2.1,1.3M1136.7,61.6l1.9,1.6M1144.1,65.1l1.7,1.8M1147.7,68.6l1.5,2.0M1151.4,72.1l1.3,2.1M1155.1,75.7l1.2,2.2M1158.8,79.3l1.0,2.3M1162.6,86.4l0.7,2.4M1166.3,93.6l0.4,2.5M1166.4,97.2l0.2,2.5M1166.9,122.4l-0.7,2.4M1166.9,126.0l-0.9,2.3M1163.5,133.3l-1.1,2.2M1160.0,140.6l-1.4,2.1M1156.5,144.2l-1.5,2.0M1152.9,147.9l-1.7,1.8M1149.4,151.5l-1.8,1.7M1145.9,155.2l-2.0,1.6M1138.8,158.9l-2.1,1.3M1131.6,162.7l-2.3,1.0M1117.3,166.6l-2.5,0.5M1120.9,166.5l-2.4,0.6" stroke="#dede2a" stroke-width="1.5" stroke-linecap="round" fill="none"/>
<path d="M1122.1,54.7l2.3,0.9M1133.1,58.1l2.1,1.4M1140.4,61.6l1.9,1.7M1162.5,82.8l0.8,2.4M1166.2,90.0l0.5,2.4M1170.1,104.4l-0.1,2.5M1170.2,108.0l-0.2,2.5M1170.3,111.6l-0.3,2.5M1170.3,115.2l-0.5,2.5M1167.0,129.6l-1.0,2.3M1163.5,136.9l-1.2,2.2M1142.3,158.9l-2.1,1.4M1135.2,162.6l-2.2,1.2M1124.5,166.4l-2.4,0.8" stroke="#d2de2a" stroke-width="1.5" stroke-linecap="round" fill="none"/>
<path d="M1104.1,58.8l2.5,0.1M1107.7,58.7l2.5,0.3M1111.3,58.6l2.5,0.5M1114.9,58.5l2.4,0.7M1125.8,61.8l2.2,1.2M1133.1,65.2l2.0,1.6M1140.5,68.7l1.7,1.8M1144.2,72.2l1.5,2.0M1147.8,75.7l1.3,2.1M1151.6,79.3l1.1,2.2M1155.2,82.8l0.9,2.3M1159.0,90.0l0.6,2.4M1162.9,100.8l0.1,2.5M1162.9,104.4l-0.1,2.5M1163.0,108.0l-0.2,2.5M1163.1,111.6l-0.4,2.5M1163.2,115.2l-0.5,2.4M1163.2,118.8l-0.6,2.4M1159.8,129.7l-1.1,2.3M1156.4,137.0l-1.4,2.1M1152.9,140.6l-1.5,2.0M1149.3,144.3l-1.7,1.8M1145.8,147.9l-1.8,1.7M1142.3,151.6l-2.0,1.5M1135.2,155.4l-2.2,1.3M1128.1,159.1l-2.3,1.0M1106.5,163.2l-2.5,0.1M1110.1,163.1l-2.5,0.2M1113.7,163.0l-2.5,0.4M1117.3,162.9l-2.4,0.5" stroke="#ead21e" stroke-width="1.5" stroke-linecap="round" fill="none"/>
<path d="M1118.5,58.4l2.4,0.8M1129.4,61.7l2.1,1.4M1136.8,65.2l1.9,1.7M1158.9,86.4l0.7,2.4M1162.8,97.2l0.2,2.5M1163.3,122.4l-0.8,2.4M1159.9,133.3l-1.2,2.2M1138.7,155.3l-2.1,1.4M1131.6,159.1l-2.2,1.1M1120.9,162.9l-2.4,0.7" stroke="#ead22a" stroke-width="1.5" stroke-linecap="round" fill="none"/>
<path d="M1144.0,58.0l1.8,1.7M1145.9,162.5l-2.0,1.4" stroke="#96de2a" stroke-width="1.5" stroke-linecap="round" fill="none"/>
<path d="M1104.1,62.3l2.5,0.1M1122.2,65.4l2.2,1.2M1136.9,72.3l1.7,1.9M1148.0,82.9l1.0,2.3M1151.7,86.4l0.8,2.4M1155.5,93.6l0.4,2.5M1156.2,126.1l-1.0,2.3M1152.8,133.3l-1.3,2.1M1149.3,137.0l-1.5,2.0M1138.7,148.0l-2.0,1.5M1124.5,155.6l-2.3,0.9M1106.5,159.6l-2.5,0.1" stroke="#f6a21e" stroke-width="1.5" stroke-linecap="round" fill="none"/>
<path d="M1107.7,62.2l2.5,0.3M1111.3,62.1l2.4,0.5M1125.8,65.3l2.1,1.3M1133.2,68.8l1.9,1.7M1159.3,104.4l-0.1,2.5M1159.4,108.0l-0.2,2.5M1159.5,111.6l-0.4,2.5M1159.6,115.2l-0.5,2.4M1135.2,151.7l-2.1,1.3M1128.0,155.5l-2.3,1.0M1110.1,159.5l-2.5,0.2M1113.7,159.4l-2.5,0.4" stroke="#f6ae1e" stroke-width="1.5" stroke-linecap="round" fill="none"/>
<path d="M1114.9,62.0l2.4,0.7M1118.5,61.9l2.3,0.9M1140.5,72.2l1.6,1.9M1144.2,75.8l1.4,2.1M1147.9,79.3l1.2,2.2M1151.6,82.8l1.0,2.3M1155.4,90.0l0.6,2.4M1159.2,97.2l0.3,2.5M1159.3,100.8l0.1,2.5M1159.6,118.8l-0.7,2.4M1159.7,122.4l-0.8,2.4M1156.3,129.7l-1.1,2.2M1152.8,137.0l-1.4,2.1M1149.3,140.6l-1.6,1.9M1145.8,144.3l-1.8,1.8M1142.3,148.0l-1.9,1.6M1117.3,159.3l-2.4,0.6M1120.9,159.2l-2.4,0.7" stroke="#f6ba1e" stroke-width="1.5" stroke-linecap="round" fill="none"/>
<path d="M1122.2,61.9l2.3,1.1M1129.5,65.3l2.0,1.4M1136.8,68.7l1.8,1.8M1155.3,86.4l0.8,2.4M1156.3,133.3l-1.3,2.2M1138.7,151.7l-2.0,1.4M1131.6,155.4l-2.2,1.2M1124.5,159.2l-2.4,0.8" stroke="#f6c61e" stroke-width="1.5" stroke-linecap="round" fill="none"/>
<path d="M1104.1,65.9l2.5,0.1M1107.7,65.8l2.5,0.3M1122.2,69.0l2.2,1.2M1140.6,79.3l1.3,2.1M1142.2,140.7l-1.8,1.8M1124.5,151.9l-2.3,0.9M1106.5,156.0l-2.5,0.1M1110.1,155.9l-2.5,0.3" stroke="#f65a12" stroke-width="1.5" stroke-linecap="round" fill="none"/>
<path d="M1111.3,65.7l2.4,0.6M1136.9,75.8l1.6,2.0M1144.4,82.9l1.1,2.2M1151.9,93.6l0.5,2.5M1152.6,126.1l-1.1,2.3M1145.7,137.0l-1.6,1.9M1138.7,144.4l-1.9,1.6M1113.7,155.8l-2.5,0.4" stroke="#f66612" stroke-width="1.5" stroke-linecap="round" fill="none"/>
<path d="M1114.9,65.6l2.4,0.8M1133.2,72.3l1.8,1.8M1155.7,104.4l-0.1,2.5M1156.0,115.2l-0.6,2.4M1135.1,148.1l-2.1,1.4M1117.3,155.7l-2.4,0.6" stroke="#f67e1e" stroke-width="1.5" stroke-linecap="round" fill="none"/>
<path d="M1118.5,65.5l2.3,1.0M1129.5,68.8l2.0,1.5M1140.6,75.8l1.5,2.0M1144.3,79.3l1.2,2.2M1155.6,97.2l0.3,2.5M1156.1,122.4l-0.9,2.3M1145.7,140.7l-1.7,1.9M1142.2,144.4l-1.8,1.7M1131.6,151.8l-2.2,1.2M1120.9,155.6l-2.4,0.7" stroke="#f6961e" stroke-width="1.5" stroke-linecap="round" fill="none"/>
<path d="M1104.1,69.5l2.5,0.1M1107.7,69.4l2.5,0.4M1111.3,69.3l2.4,0.6M1104.1,73.1l2.5,0.1M1107.7,73.0l2.5,0.4M1111.3,72.9l2.4,0.7M1114.9,72.7l2.3,0.9M1118.6,72.6l2.2,1.2M1122.2,72.5l2.1,1.3M1104.1,76.7l2.5,0.2M1107.7,76.6l2.5,0.5M1111.3,76.4l2.4,0.8M1115.0,76.3l2.3,1.0M1118.6,76.2l2.2,1.3M1122.3,76.1l2.0,1.5M1125.9,76.0l1.9,1.6M1129.6,75.9l1.8,1.8M1104.1,80.3l2.5,0.2M1107.7,80.1l2.4,0.6M1111.3,80.0l2.3,0.9M1115.0,79.8l2.2,1.2M1118.7,79.7l2.1,1.4M1122.3,79.6l1.9,1.6M1126.0,79.5l1.8,1.8M1129.7,79.5l1.7,1.9M1133.3,79.4l1.5,2.0M1104.1,83.9l2.5,0.2M1107.7,83.7l2.4,0.6M1111.4,83.5l2.3,1.0M1115.0,83.3l2.1,1.3M1118.7,83.2l2.0,1.6M1122.4,83.1l1.8,1.8M1126.1,83.1l1.6,1.9M1129.8,83.0l1.5,2.0M1133.4,83.0l1.4,2.1M1137.1,82.9l1.3,2.2M1104.1,87.5l2.5,0.3M1107.7,87.2l2.4,0.8M1111.4,87.0l2.2,1.2M1115.1,86.8l2.0,1.5M1118.8,86.7l1.8,1.7M1122.5,86.6l1.6,1.9M1126.2,86.6l1.4,2.0M1129.8,86.5l1.3,2.1M1133.5,86.5l1.2,2.2M1137.2,86.5l1.1,2.2M1140.8,86.5l1.0,2.3M1111.5,90.5l2.1,1.4M1115.2,90.3l1.8,1.7M1118.9,90.2l1.6,1.9M1122.6,90.2l1.4,2.1M1126.3,90.1l1.2,2.2M1130.0,90.1l1.1,2.3M1133.6,90.0l1.0,2.3M1137.3,90.0l0.9,2.3M1140.9,90.0l0.8,2.4M1144.5,90.0l0.7,2.4M1115.4,93.8l1.5,2.0M1119.1,93.7l1.3,2.2M1122.8,93.7l1.1,2.3M1126.4,93.6l0.9,2.3M1130.1,93.6l0.8,2.4M1133.7,93.6l0.7,2.4M1137.4,93.6l0.7,2.4M1141.0,93.6l0.6,2.4M1144.6,93.6l0.6,2.4M1119.3,97.2l0.8,2.4M1122.9,97.2l0.7,2.4M1126.6,97.2l0.6,2.4M1130.2,97.2l0.5,2.4M1133.9,97.2l0.5,2.5M1137.5,97.2l0.4,2.5M1141.1,97.2l0.4,2.5M1144.7,97.2l0.3,2.5M1148.3,97.2l0.3,2.5M1119.5,100.8l0.3,2.5M1123.2,100.8l0.3,2.5M1126.8,100.8l0.2,2.5M1130.4,100.8l0.2,2.5M1134.0,100.8l0.2,2.5M1137.6,100.8l0.2,2.5M1141.2,100.8l0.1,2.5M1144.8,100.8l0.1,2.5M1148.4,100.8l0.1,2.5M1119.8,104.4l-0.2,2.5M1123.4,104.4l-0.2,2.5M1127.0,104.4l-0.1,2.5M1130.6,104.4l-0.1,2.5M1134.2,104.4l-0.1,2.5M1137.8,104.4l-0.1,2.5M1141.3,104.4l-0.1,2.5M1144.9,104.4l-0.1,2.5M1148.5,104.4l-0.1,2.5M1120.1,108.0l-0.7,2.4M1123.6,108.0l-0.6,2.4M1127.2,108.0l-0.5,2.4M1130.7,108.0l-0.5,2.5M1134.3,108.0l-0.4,2.5M1137.9,108.0l-0.4,2.5M1141.5,108.0l-0.3,2.5M1145.0,108.0l-0.3,2.5M1148.6,108.0l-0.3,2.5M1120.3,111.7l-1.2,2.2M1123.8,111.7l-1.0,2.3M1127.3,111.6l-0.9,2.3M1130.9,111.6l-0.8,2.4M1134.4,111.6l-0.7,2.4M1138.0,111.6l-0.6,2.4M1141.6,111.6l-0.6,2.4M1145.2,111.6l-0.5,2.4M1148.7,111.6l-0.5,2.5M1117.0,115.5l-1.7,1.8M1120.5,115.4l-1.5,2.0M1124.0,115.3l-1.3,2.1M1127.5,115.3l-1.2,2.2M1131.0,115.3l-1.0,2.3M1134.6,115.2l-0.9,2.3M1138.1,115.2l-0.8,2.4M1141.7,115.2l-0.8,2.4M1145.3,115.2l-0.7,2.4M1148.8,115.2l-0.7,2.4M1106.5,119.9l-2.5,0.3M1110.1,119.6l-2.4,0.8M1113.6,119.4l-2.2,1.2M1117.1,119.2l-2.0,1.6M1120.6,119.1l-1.7,1.8M1124.1,119.0l-1.6,2.0M1127.6,119.0l-1.4,2.1M1131.1,118.9l-1.3,2.2M1134.7,118.9l-1.1,2.2M1138.2,118.9l-1.0,2.3M1141.8,118.8l-1.0,2.3M1145.3,118.8l-0.9,2.3M1148.9,118.8l-0.8,2.4M1106.5,123.5l-2.5,0.2M1110.1,123.3l-2.4,0.7M1113.6,123.1l-2.3,1.1M1117.1,122.9l-2.1,1.4M1120.7,122.8l-1.9,1.6M1124.2,122.7l-1.7,1.8M1127.7,122.6l-1.6,1.9M1131.2,122.6l-1.5,2.0M1134.8,122.5l-1.3,2.1M1138.3,122.5l-1.2,2.2M1141.9,122.5l-1.1,2.2M1145.4,122.5l-1.1,2.3M1149.0,122.5l-1.0,2.3M1106.5,127.1l-2.5,0.2M1110.1,126.9l-2.4,0.6M1113.7,126.7l-2.3,0.9M1117.2,126.6l-2.2,1.2M1120.7,126.5l-2.0,1.4M1124.2,126.4l-1.9,1.6M1127.8,126.3l-1.8,1.8M1131.3,126.2l-1.6,1.9M1134.9,126.2l-1.5,2.0M1138.4,126.2l-1.4,2.1M1141.9,126.1l-1.3,2.1M1145.5,126.1l-1.2,2.2M1106.5,130.7l-2.5,0.2M1110.1,130.6l-2.5,0.5M1113.7,130.4l-2.4,0.8M1117.2,130.3l-2.3,1.1M1120.8,130.1l-2.1,1.3M1124.3,130.1l-2.0,1.5M1127.8,130.0l-1.9,1.7M1131.4,129.9l-1.8,1.8M1134.9,129.9l-1.6,1.9M1138.5,129.8l-1.5,2.0M1142.0,129.8l-1.4,2.0M1145.6,129.7l-1.4,2.1M1106.5,134.3l-2.5,0.1M1110.1,134.2l-2.5,0.4M1113.7,134.0l-2.4,0.7M1117.3,133.9l-2.3,1.0M1120.8,133.8l-2.2,1.2M1124.3,133.7l-2.1,1.4M1127.9,133.6l-2.0,1.5M1131.4,133.6l-1.9,1.7M1135.0,133.5l-1.8,1.8M1138.5,133.5l-1.7,1.9M1142.1,133.4l-1.6,2.0M1106.5,137.9l-2.5,0.1M1110.1,137.8l-2.5,0.4M1113.7,137.7l-2.4,0.6M1117.3,137.6l-2.3,0.9M1120.8,137.5l-2.3,1.1M1124.4,137.4l-2.2,1.3M1127.9,137.3l-2.1,1.4M1131.5,137.2l-2.0,1.6M1135.0,137.2l-1.9,1.7M1138.6,137.1l-1.8,1.8M1106.5,141.5l-2.5,0.1M1110.1,141.4l-2.5,0.4M1113.7,141.3l-2.4,0.6M1117.3,141.2l-2.4,0.8M1120.8,141.1l-2.3,1.0M1124.4,141.0l-2.2,1.2M1128.0,140.9l-2.1,1.3M1131.5,140.9l-2.0,1.5M1135.1,140.8l-1.9,1.6M1106.5,145.1l-2.5,0.1M1110.1,145.0l-2.5,0.3M1113.7,144.9l-2.4,0.5M1117.3,144.8l-2.4,0.7M1120.9,144.7l-2.3,0.9M1124.4,144.7l-2.3,1.1M1128.0,144.6l-2.2,1.2M1131.5,144.5l-2.1,1.4M1106.5,148.7l-2.5,0.1M1110.1,148.6l-2.5,0.3M1113.7,148.6l-2.5,0.5M1117.3,148.5l-2.4,0.7M1120.9,148.4l-2.3,0.9M1124.4,148.3l-2.3,1.0M1106.5,152.4l-2.5,0.1M1110.1,152.3l-2.5,0.3M1113.7,152.2l-2.5,0.5" stroke="#ff1212" stroke-width="1.5" stroke-linecap="round" fill="none"/>
<path d="M1114.9,69.2l2.3,0.9M1125.9,72.4l2.0,1.5M1137.0,79.4l1.4,2.1M1140.7,82.9l1.2,2.2M1148.2,93.6l0.5,2.4M1152.2,108.0l-0.3,2.5M1152.3,111.6l-0.4,2.5M1149.1,126.1l-1.1,2.2M1142.1,137.1l-1.7,1.9M1138.6,140.8l-1.8,1.7M1128.0,148.2l-2.2,1.2M1117.3,152.1l-2.4,0.6" stroke="#ff1e12" stroke-width="1.5" stroke-linecap="round" fill="none"/>
<path d="M1118.6,69.1l2.3,1.1M1152.0,100.8l0.1,2.5M1152.5,118.8l-0.8,2.4M1120.9,152.0l-2.4,0.8" stroke="#f63612" stroke-width="1.5" stroke-linecap="round" fill="none"/>
<path d="M1125.9,68.9l2.1,1.4M1128.0,151.9l-2.2,1.1" stroke="#f6721e" stroke-width="1.5" stroke-linecap="round" fill="none"/>
<path d="M1129.6,72.4l1.9,1.6M1152.0,97.2l0.3,2.5M1152.6,122.4l-0.9,2.3M1131.6,148.2l-2.1,1.3" stroke="#f64e12" stroke-width="1.5" stroke-linecap="round" fill="none"/>
<path d="M1133.3,75.9l1.7,1.9M1144.4,86.4l0.9,2.3M1145.6,133.4l-1.5,2.0M1135.1,144.5l-2.0,1.5" stroke="#f62a12" stroke-width="1.5" stroke-linecap="round" fill="none"/>
<path d="M1148.1,86.4l0.9,2.3M1155.8,108.0l-0.2,2.5M1155.9,111.6l-0.4,2.5M1149.2,133.4l-1.4,2.1" stroke="#f67212" stroke-width="1.5" stroke-linecap="round" fill="none"/>
<path d="M1148.2,90.0l0.7,2.4M1149.1,129.7l-1.3,2.2" stroke="#f64212" stroke-width="1.5" stroke-linecap="round" fill="none"/>
<path d="M1151.8,90.0l0.6,2.4M1155.6,100.8l0.1,2.5M1156.1,118.8l-0.7,2.4M1152.7,129.7l-1.2,2.2" stroke="#f68a1e" stroke-width="1.5" stroke-linecap="round" fill="none"/>
<path d="M1159.1,93.6l0.4,2.5M1159.8,126.0l-1.0,2.3" stroke="#eac61e" stroke-width="1.5" stroke-linecap="round" fill="none"/>
<path d="M1152.1,104.4l-0.1,2.5M1152.4,115.2l-0.6,2.4" stroke="#f61e12" stroke-width="1.5" stroke-linecap="round" fill="none"/>
</g>
<circle cx="1103.5" cy="104.2" r="78.8" fill="none" stroke="#000" stroke-width="2"/>
<circle cx="1103.5" cy="104.2" r="16" fill="#eef2fa"/>
<circle cx="1103.5" cy="104.2" r="12.4" fill="#fff" stroke="#000" stroke-width="3.4"/>
<path d="M1104.46,99.70 A4.6,4.6 0 1 1 1099.60,101.76" fill="none" stroke="#000" stroke-width="1.1"/>
<path d="M1100.29,100.66 L1100.28,103.13 L1098.07,101.75 Z" fill="#000"/>
<text x="1166" y="177.4" font-family="Liberation Serif" font-size="18.5">(<tspan font-weight="bold" font-style="italic">i</tspan>)</text>
<rect x="1021.2" y="192.0" width="164.8" height="164.0" fill="#fff" stroke="#000" stroke-width="2"/>
<circle cx="1103.6" cy="273.8" r="78.8" fill="#d6dff0"/>
<clipPath id="c2"><path d="M1107.2,277.0 H1182.3999999999999 A78.8,78.8 0 0 1 1107.2,352.6 Z"/></clipPath>
<g clip-path="url(#c2)"><rect x="1103.6" y="273.8" width="78.8" height="78.8" fill="#000"/>
<path d="M1170.9,305.0 L1170.5,305.9 L1170.0,306.8 L1169.6,307.7 L1169.1,308.5 L1168.7,309.4 L1168.2,310.2 L1167.8,310.9 L1167.3,311.7 L1166.9,312.4 L1166.4,313.2 L1166.0,313.9 L1165.5,314.6 L1165.0,315.3 L1164.6,315.9 L1164.1,316.6 L1163.6,317.3 L1163.1,317.9 L1162.7,318.6 L1162.2,319.2 L1161.7,319.8 L1161.2,320.5 L1160.7,321.1 L1160.1,321.7 L1159.6,322.3 L1159.1,323.0 L1158.5,323.6 L1157.9,324.2 L1157.4,324.8 L1156.8,325.5 L1156.2,326.1 L1155.5,326.7 L1154.9,327.3 L1154.2,328.0 L1153.5,328.6 L1152.8,329.3 L1152.1,329.9 L1151.3,330.6 L1150.6,331.3 L1149.7,331.9 L1148.9,332.6 L1148.0,333.3 L1147.0,334.0 L1146.1,334.7 L1145.1,335.4 L1144.0,336.0 L1142.9,336.7 L1141.7,337.4 L1140.5,338.0 L1139.3,338.7 L1137.9,339.4 L1136.6,340.0 L1135.1,340.7 L1133.6,341.3 L1132.0,341.9 L1130.3,342.5 L1128.6,343.1 L1126.8,343.7 L1124.9,344.2 L1122.9,344.7 L1120.8,345.2 L1118.6,345.6 L1116.5,345.8 L1114.5,345.6 L1112.8,344.9 L1111.5,343.8 L1110.4,342.3 L1109.7,340.5 L1109.4,338.4 L1109.4,336.2 L1109.4,334.1 L1109.4,332.1 L1109.4,330.2 L1109.3,328.4 L1109.3,326.7 L1109.3,325.0 L1109.3,323.4 L1109.3,321.9 L1109.3,320.5 L1109.3,319.0 L1109.3,317.6 L1109.3,316.3 L1109.2,315.0 L1109.2,313.7 L1109.2,312.4 L1109.2,311.1 L1109.2,309.9 L1109.2,308.7 L1109.2,307.4 L1109.2,306.2 L1109.2,305.0 L1109.2,303.8 L1109.2,302.6 L1109.2,301.3 L1109.2,300.1 L1109.2,298.9 L1109.2,297.6 L1109.2,296.3 L1109.2,295.0 L1109.3,293.7 L1109.3,292.4 L1109.3,291.0 L1109.3,289.5 L1109.3,288.1 L1109.3,286.6 L1109.3,285.0 L1109.5,283.4 L1110.0,282.1 L1110.8,280.9 L1111.9,279.9 L1113.3,279.2 L1114.8,278.7 L1116.6,278.6 L1118.5,278.6 L1120.2,278.5 L1121.8,278.5 L1123.3,278.5 L1124.7,278.5 L1126.1,278.5 L1127.4,278.5 L1128.7,278.5 L1129.9,278.5 L1131.1,278.5 L1132.2,278.5 L1133.3,278.5 L1134.4,278.5 L1135.4,278.5 L1136.4,278.6 L1137.4,278.6 L1138.4,278.6 L1139.3,278.6 L1140.3,278.6 L1141.2,278.6 L1142.2,278.6 L1143.1,278.6 L1144.0,278.6 L1144.9,278.6 L1145.8,278.6 L1146.8,278.6 L1147.7,278.6 L1148.7,278.6 L1149.6,278.6 L1150.6,278.6 L1151.6,278.6 L1152.6,278.5 L1153.6,278.5 L1154.7,278.5 L1155.8,278.5 L1156.9,278.5 L1158.1,278.5 L1159.3,278.5 L1160.6,278.5 L1161.9,278.5 L1163.3,278.5 L1164.7,278.5 L1166.2,278.5 L1167.8,278.5 L1169.5,278.6 L1171.3,278.6 L1172.9,279.0 L1174.2,279.6 L1175.3,280.5 L1176.1,281.7 L1176.5,283.1 L1176.6,284.6 L1176.4,286.3 L1176.2,287.9 L1175.9,289.4 L1175.6,290.9 L1175.3,292.3 L1175.0,293.7 L1174.6,295.0 L1174.3,296.3 L1173.9,297.5 L1173.5,298.7 L1173.1,299.9 L1172.7,301.0 L1172.3,302.0 L1171.8,303.1 L1171.4,304.0Z" fill="none" stroke="url(#rg0)" stroke-width="2.2" stroke-dasharray="2 1.35" stroke-linejoin="round"/>
<path d="M1168.1,305.0 L1167.8,305.8 L1167.5,306.6 L1167.1,307.4 L1166.8,308.2 L1166.4,309.0 L1166.1,309.7 L1165.7,310.4 L1165.3,311.1 L1165.0,311.8 L1164.6,312.5 L1164.2,313.2 L1163.8,313.8 L1163.4,314.5 L1163.0,315.1 L1162.6,315.7 L1162.1,316.3 L1161.7,316.9 L1161.3,317.5 L1160.8,318.1 L1160.4,318.7 L1159.9,319.3 L1159.4,319.9 L1158.9,320.4 L1158.4,321.0 L1157.9,321.6 L1157.4,322.1 L1156.8,322.7 L1156.3,323.2 L1155.7,323.7 L1155.1,324.3 L1154.5,324.8 L1153.9,325.4 L1153.3,325.9 L1152.7,326.4 L1152.0,326.9 L1151.3,327.5 L1150.6,328.0 L1149.9,328.5 L1149.1,329.0 L1148.3,329.6 L1147.5,330.1 L1146.7,330.6 L1145.8,331.1 L1144.9,331.6 L1144.0,332.2 L1143.0,332.7 L1142.0,333.2 L1141.0,333.7 L1139.9,334.2 L1138.8,334.7 L1137.6,335.2 L1136.4,335.7 L1135.1,336.1 L1133.7,336.6 L1132.3,337.0 L1130.9,337.5 L1129.4,337.9 L1127.8,338.2 L1126.2,338.6 L1124.5,338.9 L1122.7,339.1 L1120.9,339.3 L1119.3,339.0 L1117.9,338.4 L1116.8,337.5 L1115.9,336.3 L1115.2,334.8 L1114.9,333.1 L1114.8,331.3 L1114.8,329.5 L1114.7,327.9 L1114.6,326.4 L1114.5,324.9 L1114.5,323.5 L1114.4,322.1 L1114.3,320.8 L1114.3,319.5 L1114.2,318.2 L1114.2,317.0 L1114.1,315.9 L1114.1,314.7 L1114.1,313.6 L1114.0,312.5 L1114.0,311.4 L1114.0,310.3 L1114.0,309.2 L1113.9,308.2 L1113.9,307.1 L1113.9,306.1 L1113.9,305.0 L1113.9,303.9 L1113.9,302.9 L1113.9,301.8 L1114.0,300.8 L1114.0,299.7 L1114.0,298.6 L1114.0,297.5 L1114.1,296.4 L1114.1,295.3 L1114.1,294.1 L1114.2,293.0 L1114.2,291.8 L1114.3,290.5 L1114.3,289.2 L1114.4,287.9 L1114.6,286.6 L1115.0,285.5 L1115.7,284.5 L1116.7,283.6 L1117.8,283.0 L1119.1,282.6 L1120.5,282.3 L1122.0,282.3 L1123.4,282.2 L1124.8,282.1 L1126.0,282.0 L1127.3,281.9 L1128.4,281.9 L1129.5,281.8 L1130.6,281.7 L1131.6,281.7 L1132.6,281.6 L1133.6,281.6 L1134.5,281.5 L1135.4,281.5 L1136.3,281.4 L1137.2,281.4 L1138.1,281.4 L1139.0,281.3 L1139.8,281.3 L1140.7,281.3 L1141.5,281.3 L1142.3,281.3 L1143.2,281.2 L1144.0,281.2 L1144.8,281.2 L1145.7,281.3 L1146.5,281.3 L1147.3,281.3 L1148.2,281.3 L1149.0,281.3 L1149.9,281.4 L1150.8,281.4 L1151.7,281.4 L1152.6,281.5 L1153.5,281.5 L1154.4,281.6 L1155.4,281.6 L1156.4,281.7 L1157.4,281.7 L1158.5,281.8 L1159.6,281.9 L1160.7,281.9 L1162.0,282.0 L1163.2,282.1 L1164.6,282.2 L1166.0,282.3 L1167.4,282.4 L1168.7,282.8 L1169.8,283.3 L1170.7,284.1 L1171.4,285.1 L1171.8,286.2 L1172.0,287.5 L1171.8,288.9 L1171.7,290.3 L1171.5,291.6 L1171.4,292.8 L1171.2,294.0 L1170.9,295.2 L1170.7,296.3 L1170.5,297.4 L1170.2,298.5 L1169.9,299.5 L1169.7,300.5 L1169.4,301.4 L1169.1,302.4 L1168.8,303.3 L1168.5,304.1Z" fill="none" stroke="url(#rg1)" stroke-width="2.2" stroke-dasharray="2 1.35" stroke-linejoin="round"/>
<path d="M1165.1,305.0 L1164.9,305.7 L1164.6,306.4 L1164.4,307.1 L1164.1,307.8 L1163.8,308.5 L1163.5,309.2 L1163.2,309.8 L1162.9,310.4 L1162.6,311.1 L1162.3,311.7 L1162.0,312.3 L1161.6,312.8 L1161.3,313.4 L1160.9,314.0 L1160.6,314.6 L1160.2,315.1 L1159.8,315.7 L1159.4,316.2 L1159.0,316.7 L1158.6,317.2 L1158.2,317.8 L1157.7,318.3 L1157.3,318.8 L1156.8,319.3 L1156.4,319.7 L1155.9,320.2 L1155.4,320.7 L1154.9,321.2 L1154.4,321.6 L1153.9,322.1 L1153.3,322.5 L1152.8,323.0 L1152.2,323.4 L1151.6,323.9 L1151.0,324.3 L1150.4,324.7 L1149.8,325.2 L1149.1,325.6 L1148.5,326.0 L1147.8,326.4 L1147.1,326.8 L1146.3,327.2 L1145.6,327.6 L1144.8,328.0 L1144.0,328.4 L1143.2,328.8 L1142.3,329.2 L1141.4,329.6 L1140.5,329.9 L1139.5,330.3 L1138.5,330.6 L1137.5,331.0 L1136.5,331.3 L1135.4,331.6 L1134.2,331.9 L1133.0,332.2 L1131.8,332.5 L1130.5,332.7 L1129.2,332.9 L1127.8,333.1 L1126.4,333.2 L1124.9,333.3 L1123.7,333.0 L1122.5,332.5 L1121.6,331.7 L1120.8,330.7 L1120.3,329.6 L1120.0,328.2 L1119.8,326.8 L1119.7,325.4 L1119.6,324.1 L1119.5,322.8 L1119.4,321.6 L1119.2,320.5 L1119.1,319.3 L1119.1,318.3 L1119.0,317.2 L1118.9,316.2 L1118.8,315.2 L1118.7,314.2 L1118.7,313.2 L1118.6,312.3 L1118.6,311.3 L1118.5,310.4 L1118.5,309.5 L1118.4,308.6 L1118.4,307.7 L1118.4,306.8 L1118.4,305.9 L1118.4,305.0 L1118.4,304.1 L1118.4,303.2 L1118.4,302.3 L1118.4,301.4 L1118.5,300.5 L1118.5,299.6 L1118.6,298.7 L1118.6,297.7 L1118.7,296.8 L1118.7,295.8 L1118.8,294.8 L1118.9,293.8 L1119.0,292.8 L1119.1,291.7 L1119.1,290.7 L1119.3,289.6 L1119.7,288.6 L1120.3,287.8 L1121.1,287.1 L1122.0,286.5 L1123.0,286.1 L1124.2,285.9 L1125.4,285.7 L1126.5,285.6 L1127.6,285.5 L1128.7,285.4 L1129.6,285.2 L1130.6,285.1 L1131.5,285.0 L1132.4,284.9 L1133.3,284.8 L1134.1,284.7 L1134.9,284.6 L1135.7,284.6 L1136.5,284.5 L1137.3,284.4 L1138.1,284.4 L1138.8,284.3 L1139.6,284.3 L1140.3,284.2 L1141.1,284.2 L1141.8,284.2 L1142.5,284.2 L1143.3,284.1 L1144.0,284.1 L1144.7,284.1 L1145.5,284.2 L1146.2,284.2 L1146.9,284.2 L1147.7,284.2 L1148.4,284.3 L1149.2,284.3 L1149.9,284.4 L1150.7,284.4 L1151.5,284.5 L1152.3,284.6 L1153.1,284.6 L1153.9,284.7 L1154.7,284.8 L1155.6,284.9 L1156.5,285.0 L1157.4,285.1 L1158.4,285.2 L1159.3,285.4 L1160.4,285.5 L1161.5,285.6 L1162.6,285.7 L1163.8,285.9 L1164.8,286.3 L1165.7,286.8 L1166.5,287.5 L1167.0,288.3 L1167.4,289.2 L1167.6,290.3 L1167.5,291.4 L1167.5,292.5 L1167.4,293.6 L1167.3,294.6 L1167.2,295.6 L1167.1,296.6 L1166.9,297.5 L1166.8,298.5 L1166.6,299.4 L1166.4,300.2 L1166.2,301.1 L1166.0,301.9 L1165.8,302.7 L1165.6,303.5 L1165.4,304.3Z" fill="none" stroke="#38c038" stroke-width="2.2" stroke-dasharray="2 1.35" stroke-linejoin="round"/>
<path d="M1162.2,305.0 L1162.0,305.6 L1161.8,306.2 L1161.6,306.9 L1161.4,307.4 L1161.2,308.0 L1161.0,308.6 L1160.7,309.2 L1160.5,309.7 L1160.2,310.3 L1159.9,310.8 L1159.7,311.3 L1159.4,311.9 L1159.1,312.4 L1158.8,312.9 L1158.5,313.4 L1158.2,313.8 L1157.8,314.3 L1157.5,314.8 L1157.1,315.3 L1156.8,315.7 L1156.4,316.2 L1156.0,316.6 L1155.6,317.0 L1155.2,317.5 L1154.8,317.9 L1154.4,318.3 L1153.9,318.7 L1153.5,319.1 L1153.0,319.5 L1152.6,319.9 L1152.1,320.2 L1151.6,320.6 L1151.1,321.0 L1150.6,321.3 L1150.1,321.7 L1149.5,322.0 L1149.0,322.4 L1148.4,322.7 L1147.8,323.0 L1147.2,323.3 L1146.6,323.6 L1146.0,323.9 L1145.3,324.2 L1144.7,324.5 L1144.0,324.8 L1143.3,325.1 L1142.6,325.4 L1141.8,325.6 L1141.1,325.9 L1140.3,326.1 L1139.5,326.4 L1138.6,326.6 L1137.8,326.8 L1136.9,327.0 L1135.9,327.2 L1135.0,327.3 L1134.0,327.5 L1133.0,327.6 L1131.9,327.7 L1130.9,327.8 L1129.7,327.8 L1128.6,327.8 L1127.6,327.6 L1126.7,327.1 L1125.9,326.5 L1125.3,325.7 L1124.9,324.8 L1124.6,323.8 L1124.4,322.7 L1124.2,321.6 L1124.1,320.6 L1123.9,319.6 L1123.8,318.6 L1123.7,317.7 L1123.5,316.8 L1123.4,315.9 L1123.3,315.1 L1123.2,314.3 L1123.1,313.4 L1123.0,312.6 L1122.9,311.8 L1122.9,311.1 L1122.8,310.3 L1122.8,309.5 L1122.7,308.8 L1122.7,308.0 L1122.6,307.2 L1122.6,306.5 L1122.6,305.7 L1122.6,305.0 L1122.6,304.3 L1122.6,303.5 L1122.6,302.8 L1122.7,302.0 L1122.7,301.2 L1122.8,300.5 L1122.8,299.7 L1122.9,298.9 L1122.9,298.2 L1123.0,297.4 L1123.1,296.6 L1123.2,295.7 L1123.3,294.9 L1123.4,294.1 L1123.5,293.2 L1123.7,292.3 L1124.1,291.6 L1124.6,290.9 L1125.2,290.3 L1125.9,289.8 L1126.7,289.4 L1127.6,289.2 L1128.6,289.0 L1129.4,288.8 L1130.3,288.7 L1131.1,288.5 L1131.9,288.4 L1132.7,288.2 L1133.4,288.1 L1134.2,288.0 L1134.9,287.9 L1135.6,287.7 L1136.3,287.6 L1136.9,287.5 L1137.6,287.5 L1138.3,287.4 L1138.9,287.3 L1139.6,287.2 L1140.2,287.2 L1140.9,287.1 L1141.5,287.1 L1142.1,287.1 L1142.7,287.0 L1143.4,287.0 L1144.0,287.0 L1144.6,287.0 L1145.3,287.0 L1145.9,287.1 L1146.5,287.1 L1147.1,287.1 L1147.8,287.2 L1148.4,287.2 L1149.1,287.3 L1149.7,287.4 L1150.4,287.5 L1151.1,287.5 L1151.7,287.6 L1152.4,287.7 L1153.1,287.9 L1153.8,288.0 L1154.6,288.1 L1155.3,288.2 L1156.1,288.4 L1156.9,288.5 L1157.7,288.7 L1158.6,288.8 L1159.4,289.0 L1160.4,289.2 L1161.2,289.5 L1161.9,290.0 L1162.5,290.5 L1163.0,291.2 L1163.3,292.0 L1163.5,292.8 L1163.5,293.7 L1163.5,294.6 L1163.5,295.5 L1163.5,296.3 L1163.4,297.1 L1163.4,297.9 L1163.3,298.7 L1163.2,299.5 L1163.1,300.2 L1163.0,301.0 L1162.9,301.7 L1162.8,302.4 L1162.7,303.0 L1162.5,303.7 L1162.3,304.4Z" fill="none" stroke="#30b878" stroke-width="2.2" stroke-dasharray="2 1.35" stroke-linejoin="round"/>
<path d="M1159.2,305.0 L1159.1,305.5 L1159.0,306.0 L1158.8,306.6 L1158.7,307.1 L1158.5,307.6 L1158.3,308.0 L1158.1,308.5 L1158.0,309.0 L1157.7,309.5 L1157.5,309.9 L1157.3,310.4 L1157.1,310.8 L1156.8,311.3 L1156.6,311.7 L1156.3,312.1 L1156.1,312.5 L1155.8,312.9 L1155.5,313.3 L1155.2,313.7 L1154.9,314.1 L1154.6,314.5 L1154.2,314.9 L1153.9,315.2 L1153.5,315.6 L1153.2,315.9 L1152.8,316.3 L1152.4,316.6 L1152.1,317.0 L1151.7,317.3 L1151.3,317.6 L1150.9,317.9 L1150.4,318.2 L1150.0,318.5 L1149.6,318.8 L1149.1,319.0 L1148.6,319.3 L1148.2,319.6 L1147.7,319.8 L1147.2,320.1 L1146.7,320.3 L1146.2,320.5 L1145.7,320.7 L1145.1,320.9 L1144.6,321.2 L1144.0,321.3 L1143.4,321.5 L1142.8,321.7 L1142.2,321.9 L1141.6,322.0 L1141.0,322.2 L1140.3,322.3 L1139.6,322.5 L1139.0,322.6 L1138.3,322.7 L1137.5,322.8 L1136.8,322.8 L1136.0,322.9 L1135.2,323.0 L1134.4,323.0 L1133.6,323.0 L1132.8,323.0 L1131.9,322.9 L1131.2,322.7 L1130.5,322.3 L1129.9,321.8 L1129.4,321.2 L1129.0,320.5 L1128.7,319.8 L1128.5,318.9 L1128.4,318.1 L1128.2,317.4 L1128.0,316.6 L1127.9,315.9 L1127.7,315.2 L1127.6,314.5 L1127.5,313.8 L1127.4,313.1 L1127.2,312.5 L1127.1,311.8 L1127.0,311.2 L1127.0,310.5 L1126.9,309.9 L1126.8,309.3 L1126.7,308.7 L1126.7,308.1 L1126.7,307.4 L1126.6,306.8 L1126.6,306.2 L1126.6,305.6 L1126.6,305.0 L1126.6,304.4 L1126.6,303.8 L1126.6,303.2 L1126.7,302.6 L1126.7,301.9 L1126.7,301.3 L1126.8,300.7 L1126.9,300.1 L1127.0,299.5 L1127.0,298.8 L1127.1,298.2 L1127.2,297.5 L1127.4,296.9 L1127.5,296.2 L1127.6,295.5 L1127.8,294.9 L1128.1,294.3 L1128.5,293.7 L1128.9,293.2 L1129.5,292.8 L1130.1,292.5 L1130.8,292.2 L1131.5,292.1 L1132.2,291.9 L1132.8,291.7 L1133.5,291.5 L1134.1,291.4 L1134.7,291.2 L1135.3,291.1 L1135.9,290.9 L1136.5,290.8 L1137.0,290.7 L1137.6,290.6 L1138.1,290.5 L1138.7,290.4 L1139.2,290.3 L1139.8,290.2 L1140.3,290.1 L1140.8,290.1 L1141.4,290.0 L1141.9,290.0 L1142.4,290.0 L1142.9,289.9 L1143.5,289.9 L1144.0,289.9 L1144.5,289.9 L1145.1,289.9 L1145.6,290.0 L1146.1,290.0 L1146.6,290.0 L1147.2,290.1 L1147.7,290.1 L1148.2,290.2 L1148.8,290.3 L1149.3,290.4 L1149.9,290.5 L1150.4,290.6 L1151.0,290.7 L1151.5,290.8 L1152.1,290.9 L1152.7,291.1 L1153.3,291.2 L1153.9,291.4 L1154.5,291.5 L1155.2,291.7 L1155.8,291.9 L1156.5,292.1 L1157.2,292.3 L1157.8,292.6 L1158.4,292.9 L1158.8,293.4 L1159.2,293.9 L1159.5,294.5 L1159.7,295.2 L1159.8,295.9 L1159.8,296.6 L1159.8,297.3 L1159.9,297.9 L1159.9,298.6 L1159.9,299.2 L1159.9,299.8 L1159.8,300.5 L1159.8,301.1 L1159.8,301.7 L1159.7,302.2 L1159.6,302.8 L1159.5,303.4 L1159.4,303.9 L1159.3,304.5Z" fill="none" stroke="#30b0b8" stroke-width="2.2" stroke-dasharray="2 1.35" stroke-linejoin="round"/>
<path d="M1156.3,305.0 L1156.2,305.4 L1156.1,305.8 L1156.0,306.3 L1155.9,306.7 L1155.8,307.1 L1155.7,307.5 L1155.5,307.9 L1155.4,308.3 L1155.2,308.6 L1155.1,309.0 L1154.9,309.4 L1154.7,309.8 L1154.5,310.1 L1154.3,310.5 L1154.1,310.8 L1153.9,311.2 L1153.7,311.5 L1153.4,311.8 L1153.2,312.2 L1152.9,312.5 L1152.7,312.8 L1152.4,313.1 L1152.1,313.4 L1151.8,313.7 L1151.5,314.0 L1151.2,314.2 L1150.9,314.5 L1150.6,314.8 L1150.3,315.0 L1149.9,315.3 L1149.6,315.5 L1149.2,315.7 L1148.9,316.0 L1148.5,316.2 L1148.1,316.4 L1147.8,316.6 L1147.4,316.8 L1147.0,316.9 L1146.6,317.1 L1146.2,317.3 L1145.7,317.4 L1145.3,317.6 L1144.9,317.7 L1144.4,317.9 L1144.0,318.0 L1143.5,318.1 L1143.1,318.2 L1142.6,318.3 L1142.1,318.4 L1141.6,318.5 L1141.1,318.6 L1140.6,318.6 L1140.1,318.7 L1139.5,318.7 L1139.0,318.7 L1138.4,318.7 L1137.9,318.7 L1137.3,318.7 L1136.7,318.7 L1136.1,318.7 L1135.5,318.6 L1134.9,318.5 L1134.3,318.3 L1133.8,318.0 L1133.4,317.7 L1133.0,317.2 L1132.7,316.7 L1132.4,316.2 L1132.3,315.6 L1132.1,315.0 L1131.9,314.4 L1131.8,313.9 L1131.6,313.4 L1131.5,312.8 L1131.3,312.3 L1131.2,311.8 L1131.1,311.3 L1131.0,310.8 L1130.9,310.3 L1130.8,309.8 L1130.7,309.3 L1130.6,308.8 L1130.6,308.4 L1130.5,307.9 L1130.4,307.4 L1130.4,306.9 L1130.4,306.4 L1130.3,306.0 L1130.3,305.5 L1130.3,305.0 L1130.3,304.5 L1130.3,304.0 L1130.4,303.6 L1130.4,303.1 L1130.4,302.6 L1130.5,302.1 L1130.6,301.6 L1130.6,301.2 L1130.7,300.7 L1130.8,300.2 L1130.9,299.7 L1131.0,299.2 L1131.1,298.7 L1131.2,298.2 L1131.3,297.7 L1131.5,297.2 L1131.7,296.7 L1132.0,296.3 L1132.4,295.9 L1132.8,295.6 L1133.2,295.3 L1133.7,295.1 L1134.3,294.9 L1134.8,294.7 L1135.2,294.6 L1135.7,294.4 L1136.2,294.2 L1136.6,294.1 L1137.1,293.9 L1137.5,293.8 L1138.0,293.7 L1138.4,293.6 L1138.9,293.4 L1139.3,293.3 L1139.7,293.3 L1140.2,293.2 L1140.6,293.1 L1141.0,293.0 L1141.4,293.0 L1141.9,292.9 L1142.3,292.9 L1142.7,292.8 L1143.1,292.8 L1143.6,292.8 L1144.0,292.8 L1144.4,292.8 L1144.9,292.8 L1145.3,292.8 L1145.7,292.9 L1146.1,292.9 L1146.6,293.0 L1147.0,293.0 L1147.4,293.1 L1147.8,293.2 L1148.3,293.3 L1148.7,293.3 L1149.1,293.4 L1149.6,293.6 L1150.0,293.7 L1150.5,293.8 L1150.9,293.9 L1151.4,294.1 L1151.8,294.2 L1152.3,294.4 L1152.8,294.6 L1153.2,294.7 L1153.7,294.9 L1154.2,295.1 L1154.7,295.4 L1155.1,295.7 L1155.5,296.0 L1155.8,296.4 L1156.0,296.9 L1156.2,297.4 L1156.3,297.9 L1156.3,298.4 L1156.4,298.9 L1156.5,299.5 L1156.5,299.9 L1156.5,300.4 L1156.6,300.9 L1156.6,301.4 L1156.6,301.9 L1156.6,302.3 L1156.5,302.8 L1156.5,303.2 L1156.5,303.7 L1156.4,304.1 L1156.4,304.6Z" fill="none" stroke="#2890c8" stroke-width="2.2" stroke-dasharray="2 1.35" stroke-linejoin="round"/>
<path d="M1153.4,305.0 L1153.3,305.3 L1153.3,305.6 L1153.2,306.0 L1153.1,306.3 L1153.1,306.6 L1153.0,306.9 L1152.9,307.2 L1152.8,307.5 L1152.7,307.8 L1152.5,308.1 L1152.4,308.4 L1152.3,308.7 L1152.1,309.0 L1152.0,309.2 L1151.8,309.5 L1151.7,309.8 L1151.5,310.0 L1151.3,310.3 L1151.1,310.6 L1150.9,310.8 L1150.7,311.0 L1150.5,311.3 L1150.3,311.5 L1150.0,311.7 L1149.8,311.9 L1149.6,312.1 L1149.3,312.3 L1149.1,312.5 L1148.8,312.7 L1148.6,312.9 L1148.3,313.1 L1148.0,313.3 L1147.7,313.4 L1147.5,313.6 L1147.2,313.7 L1146.9,313.9 L1146.6,314.0 L1146.3,314.1 L1146.0,314.2 L1145.6,314.3 L1145.3,314.4 L1145.0,314.5 L1144.7,314.6 L1144.3,314.7 L1144.0,314.8 L1143.7,314.8 L1143.3,314.9 L1143.0,314.9 L1142.6,315.0 L1142.2,315.0 L1141.9,315.0 L1141.5,315.0 L1141.1,315.0 L1140.7,315.0 L1140.4,315.0 L1140.0,315.0 L1139.6,315.0 L1139.2,314.9 L1138.8,314.9 L1138.3,314.8 L1137.9,314.7 L1137.5,314.6 L1137.1,314.4 L1136.8,314.2 L1136.5,314.0 L1136.2,313.7 L1135.9,313.3 L1135.7,313.0 L1135.6,312.6 L1135.4,312.2 L1135.3,311.8 L1135.1,311.4 L1135.0,311.1 L1134.9,310.7 L1134.8,310.3 L1134.6,310.0 L1134.5,309.6 L1134.4,309.3 L1134.4,308.9 L1134.3,308.5 L1134.2,308.2 L1134.1,307.8 L1134.1,307.5 L1134.0,307.1 L1134.0,306.8 L1133.9,306.4 L1133.9,306.1 L1133.9,305.7 L1133.9,305.4 L1133.9,305.0 L1133.9,304.6 L1133.9,304.3 L1133.9,303.9 L1133.9,303.6 L1134.0,303.2 L1134.0,302.9 L1134.1,302.5 L1134.1,302.2 L1134.2,301.8 L1134.3,301.5 L1134.4,301.1 L1134.4,300.7 L1134.5,300.4 L1134.6,300.0 L1134.8,299.7 L1134.9,299.3 L1135.1,299.0 L1135.3,298.7 L1135.5,298.4 L1135.8,298.1 L1136.1,297.9 L1136.5,297.7 L1136.8,297.6 L1137.2,297.4 L1137.5,297.2 L1137.8,297.1 L1138.2,297.0 L1138.5,296.8 L1138.8,296.7 L1139.1,296.6 L1139.5,296.5 L1139.8,296.4 L1140.1,296.3 L1140.4,296.2 L1140.8,296.1 L1141.1,296.0 L1141.4,295.9 L1141.7,295.9 L1142.0,295.8 L1142.4,295.8 L1142.7,295.7 L1143.0,295.7 L1143.3,295.7 L1143.7,295.7 L1144.0,295.7 L1144.3,295.7 L1144.7,295.7 L1145.0,295.7 L1145.3,295.7 L1145.6,295.8 L1146.0,295.8 L1146.3,295.9 L1146.6,295.9 L1146.9,296.0 L1147.2,296.1 L1147.6,296.2 L1147.9,296.3 L1148.2,296.4 L1148.5,296.5 L1148.9,296.6 L1149.2,296.7 L1149.5,296.8 L1149.8,297.0 L1150.2,297.1 L1150.5,297.2 L1150.8,297.4 L1151.2,297.6 L1151.5,297.7 L1151.8,297.9 L1152.1,298.2 L1152.4,298.5 L1152.6,298.8 L1152.8,299.1 L1152.9,299.4 L1153.0,299.8 L1153.1,300.2 L1153.2,300.5 L1153.2,300.9 L1153.3,301.2 L1153.4,301.6 L1153.4,301.9 L1153.4,302.3 L1153.5,302.6 L1153.5,303.0 L1153.5,303.3 L1153.5,303.7 L1153.5,304.0 L1153.4,304.3 L1153.4,304.7Z" fill="none" stroke="#1c5ca8" stroke-width="2.2" stroke-dasharray="2 1.35" stroke-linejoin="round"/>
<path d="M1150.5,305.0 L1150.5,305.2 L1150.4,305.4 L1150.4,305.7 L1150.3,305.9 L1150.3,306.1 L1150.2,306.3 L1150.2,306.5 L1150.1,306.8 L1150.0,307.0 L1150.0,307.2 L1149.9,307.4 L1149.8,307.6 L1149.7,307.8 L1149.6,308.0 L1149.5,308.2 L1149.4,308.3 L1149.2,308.5 L1149.1,308.7 L1149.0,308.9 L1148.8,309.1 L1148.7,309.2 L1148.5,309.4 L1148.4,309.5 L1148.2,309.7 L1148.1,309.8 L1147.9,310.0 L1147.7,310.1 L1147.6,310.3 L1147.4,310.4 L1147.2,310.5 L1147.0,310.6 L1146.8,310.7 L1146.6,310.8 L1146.4,310.9 L1146.2,311.0 L1146.0,311.1 L1145.8,311.2 L1145.6,311.3 L1145.4,311.4 L1145.1,311.4 L1144.9,311.5 L1144.7,311.5 L1144.5,311.6 L1144.2,311.6 L1144.0,311.6 L1143.8,311.7 L1143.5,311.7 L1143.3,311.7 L1143.1,311.7 L1142.8,311.7 L1142.6,311.7 L1142.3,311.7 L1142.1,311.7 L1141.8,311.7 L1141.6,311.6 L1141.3,311.6 L1141.1,311.5 L1140.8,311.5 L1140.6,311.4 L1140.3,311.4 L1140.1,311.3 L1139.8,311.2 L1139.6,311.1 L1139.4,310.9 L1139.2,310.8 L1139.0,310.6 L1138.8,310.4 L1138.7,310.1 L1138.5,309.9 L1138.4,309.7 L1138.3,309.4 L1138.2,309.2 L1138.1,309.0 L1138.0,308.8 L1137.9,308.5 L1137.8,308.3 L1137.7,308.1 L1137.6,307.8 L1137.6,307.6 L1137.5,307.4 L1137.4,307.1 L1137.4,306.9 L1137.3,306.7 L1137.3,306.4 L1137.3,306.2 L1137.2,306.0 L1137.2,305.7 L1137.2,305.5 L1137.2,305.2 L1137.2,305.0 L1137.2,304.8 L1137.2,304.5 L1137.2,304.3 L1137.2,304.0 L1137.3,303.8 L1137.3,303.6 L1137.3,303.3 L1137.4,303.1 L1137.4,302.9 L1137.5,302.6 L1137.6,302.4 L1137.6,302.2 L1137.7,301.9 L1137.8,301.7 L1137.9,301.5 L1138.0,301.2 L1138.1,301.0 L1138.3,300.8 L1138.4,300.6 L1138.6,300.5 L1138.8,300.3 L1139.0,300.2 L1139.2,300.0 L1139.4,299.9 L1139.6,299.8 L1139.8,299.7 L1140.0,299.6 L1140.3,299.5 L1140.5,299.4 L1140.7,299.3 L1140.9,299.2 L1141.1,299.1 L1141.3,299.0 L1141.5,298.9 L1141.8,298.9 L1142.0,298.8 L1142.2,298.8 L1142.4,298.7 L1142.7,298.7 L1142.9,298.6 L1143.1,298.6 L1143.3,298.6 L1143.5,298.6 L1143.8,298.6 L1144.0,298.5 L1144.2,298.6 L1144.5,298.6 L1144.7,298.6 L1144.9,298.6 L1145.1,298.6 L1145.3,298.7 L1145.6,298.7 L1145.8,298.8 L1146.0,298.8 L1146.2,298.9 L1146.5,298.9 L1146.7,299.0 L1146.9,299.1 L1147.1,299.2 L1147.3,299.3 L1147.5,299.4 L1147.7,299.5 L1148.0,299.6 L1148.2,299.7 L1148.4,299.8 L1148.6,299.9 L1148.8,300.0 L1149.0,300.2 L1149.2,300.3 L1149.4,300.5 L1149.5,300.7 L1149.7,300.9 L1149.8,301.1 L1149.9,301.3 L1150.0,301.5 L1150.1,301.8 L1150.2,302.0 L1150.2,302.2 L1150.3,302.5 L1150.3,302.7 L1150.4,302.9 L1150.4,303.2 L1150.4,303.4 L1150.5,303.6 L1150.5,303.9 L1150.5,304.1 L1150.5,304.3 L1150.5,304.5 L1150.5,304.8Z" fill="none" stroke="#183a80" stroke-width="2.2" stroke-dasharray="2 1.35" stroke-linejoin="round"/>
<path d="M1147.6,305.0 L1147.6,305.1 L1147.6,305.2 L1147.6,305.4 L1147.5,305.5 L1147.5,305.6 L1147.5,305.7 L1147.5,305.9 L1147.4,306.0 L1147.4,306.1 L1147.3,306.2 L1147.3,306.3 L1147.2,306.4 L1147.2,306.6 L1147.1,306.7 L1147.1,306.8 L1147.0,306.9 L1146.9,307.0 L1146.9,307.1 L1146.8,307.2 L1146.7,307.3 L1146.6,307.4 L1146.6,307.5 L1146.5,307.6 L1146.4,307.6 L1146.3,307.7 L1146.2,307.8 L1146.1,307.9 L1146.0,307.9 L1145.9,308.0 L1145.8,308.1 L1145.7,308.1 L1145.6,308.2 L1145.5,308.3 L1145.3,308.3 L1145.2,308.4 L1145.1,308.4 L1145.0,308.4 L1144.9,308.5 L1144.7,308.5 L1144.6,308.5 L1144.5,308.6 L1144.4,308.6 L1144.3,308.6 L1144.1,308.6 L1144.0,308.6 L1143.9,308.6 L1143.7,308.6 L1143.6,308.6 L1143.5,308.6 L1143.4,308.6 L1143.2,308.6 L1143.1,308.6 L1143.0,308.6 L1142.8,308.5 L1142.7,308.5 L1142.6,308.5 L1142.5,308.4 L1142.3,308.4 L1142.2,308.4 L1142.1,308.3 L1142.0,308.3 L1141.8,308.2 L1141.7,308.1 L1141.6,308.1 L1141.5,308.0 L1141.4,307.9 L1141.3,307.8 L1141.2,307.7 L1141.2,307.6 L1141.1,307.4 L1141.0,307.3 L1140.9,307.2 L1140.9,307.1 L1140.8,307.0 L1140.8,306.9 L1140.7,306.8 L1140.6,306.6 L1140.6,306.5 L1140.6,306.4 L1140.5,306.3 L1140.5,306.1 L1140.4,306.0 L1140.4,305.9 L1140.4,305.8 L1140.4,305.6 L1140.3,305.5 L1140.3,305.4 L1140.3,305.3 L1140.3,305.1 L1140.3,305.0 L1140.3,304.9 L1140.3,304.7 L1140.3,304.6 L1140.3,304.5 L1140.4,304.4 L1140.4,304.2 L1140.4,304.1 L1140.4,304.0 L1140.5,303.9 L1140.5,303.7 L1140.6,303.6 L1140.6,303.5 L1140.6,303.4 L1140.7,303.2 L1140.8,303.1 L1140.8,303.0 L1140.9,302.9 L1141.0,302.8 L1141.0,302.7 L1141.1,302.6 L1141.2,302.5 L1141.3,302.4 L1141.4,302.3 L1141.5,302.3 L1141.6,302.2 L1141.7,302.1 L1141.9,302.0 L1142.0,302.0 L1142.1,301.9 L1142.2,301.9 L1142.3,301.8 L1142.4,301.7 L1142.5,301.7 L1142.6,301.7 L1142.8,301.6 L1142.9,301.6 L1143.0,301.5 L1143.1,301.5 L1143.3,301.5 L1143.4,301.5 L1143.5,301.4 L1143.6,301.4 L1143.8,301.4 L1143.9,301.4 L1144.0,301.4 L1144.1,301.4 L1144.2,301.4 L1144.4,301.4 L1144.5,301.4 L1144.6,301.5 L1144.7,301.5 L1144.9,301.5 L1145.0,301.5 L1145.1,301.6 L1145.2,301.6 L1145.4,301.7 L1145.5,301.7 L1145.6,301.7 L1145.7,301.8 L1145.8,301.9 L1145.9,301.9 L1146.0,302.0 L1146.1,302.0 L1146.3,302.1 L1146.4,302.2 L1146.5,302.3 L1146.6,302.3 L1146.7,302.4 L1146.8,302.5 L1146.9,302.6 L1146.9,302.7 L1147.0,302.8 L1147.1,302.9 L1147.2,303.0 L1147.2,303.1 L1147.3,303.3 L1147.3,303.4 L1147.4,303.5 L1147.4,303.6 L1147.4,303.7 L1147.5,303.9 L1147.5,304.0 L1147.5,304.1 L1147.5,304.2 L1147.6,304.4 L1147.6,304.5 L1147.6,304.6 L1147.6,304.7 L1147.6,304.9Z" fill="none" stroke="#102660" stroke-width="2.2" stroke-dasharray="2 1.35" stroke-linejoin="round"/>
<ellipse cx="1143.5" cy="305" rx="5" ry="4.5" fill="#081640"/>
<circle cx="1110" cy="341" r="9" fill="url(#org)"/>
</g>
<circle cx="1103.6" cy="273.8" r="78.8" fill="none" stroke="#000" stroke-width="2"/>
<circle cx="1103.6" cy="273.8" r="16" fill="#eef2fa"/>
<circle cx="1103.6" cy="273.8" r="12.4" fill="#fff" stroke="#000" stroke-width="3.4"/>
<path d="M1104.56,269.30 A4.6,4.6 0 1 1 1099.70,271.36" fill="none" stroke="#000" stroke-width="1.1"/>
<path d="M1100.39,270.26 L1100.38,272.73 L1098.17,271.35 Z" fill="#000"/>
<line x1="1120.6" y1="273.8" x2="1173.6" y2="273.8" stroke="#000" stroke-width="4.4"/>
<line x1="1103.6" y1="290.8" x2="1103.6" y2="343.8" stroke="#000" stroke-width="4.4"/>
<line x1="1086.6" y1="273.8" x2="1033.6" y2="273.8" stroke="#000" stroke-width="4.4"/>
<line x1="1103.6" y1="256.8" x2="1103.6" y2="203.8" stroke="#000" stroke-width="4.4"/>
<text x="1160.3" y="347.2" font-family="Liberation Serif" font-size="18.5">(<tspan font-weight="bold" font-style="italic">ii</tspan>)</text>
<rect x="1022.0" y="360.4" width="165.0" height="164.8" fill="#fff" stroke="#000" stroke-width="2"/>
<circle cx="1103.8" cy="442.5" r="79.8" fill="#d6dff0" stroke="#000" stroke-width="1.8"/>
<circle cx="1103.8" cy="442.5" r="16" fill="#eef2fa"/>
<circle cx="1103.8" cy="442.5" r="12.4" fill="#fff" stroke="#000" stroke-width="3.4"/>
<path d="M1104.76,438.00 A4.6,4.6 0 1 1 1099.90,440.06" fill="none" stroke="#000" stroke-width="1.1"/>
<path d="M1100.59,438.96 L1100.58,441.43 L1098.37,440.05 Z" fill="#000"/>
<line x1="1122.3" y1="442.5" x2="1174.8" y2="442.5" stroke="#000" stroke-width="4.2"/>
<line x1="1116.9" y1="455.6" x2="1154.0" y2="492.7" stroke="#000" stroke-width="4.2"/>
<line x1="1103.8" y1="461.0" x2="1103.8" y2="513.5" stroke="#000" stroke-width="4.2"/>
<line x1="1090.7" y1="455.6" x2="1053.6" y2="492.7" stroke="#000" stroke-width="4.2"/>
<line x1="1085.3" y1="442.5" x2="1032.8" y2="442.5" stroke="#000" stroke-width="4.2"/>
<line x1="1090.7" y1="429.4" x2="1053.6" y2="392.3" stroke="#000" stroke-width="4.2"/>
<line x1="1103.8" y1="424.0" x2="1103.8" y2="371.5" stroke="#000" stroke-width="4.2"/>
<line x1="1116.9" y1="429.4" x2="1154.0" y2="392.3" stroke="#000" stroke-width="4.2"/>
<text x="1156.3" y="517.6" font-family="Liberation Serif" font-size="18.5">(<tspan font-weight="bold" font-style="italic">iii</tspan>)</text>
</svg>
</body></html>
